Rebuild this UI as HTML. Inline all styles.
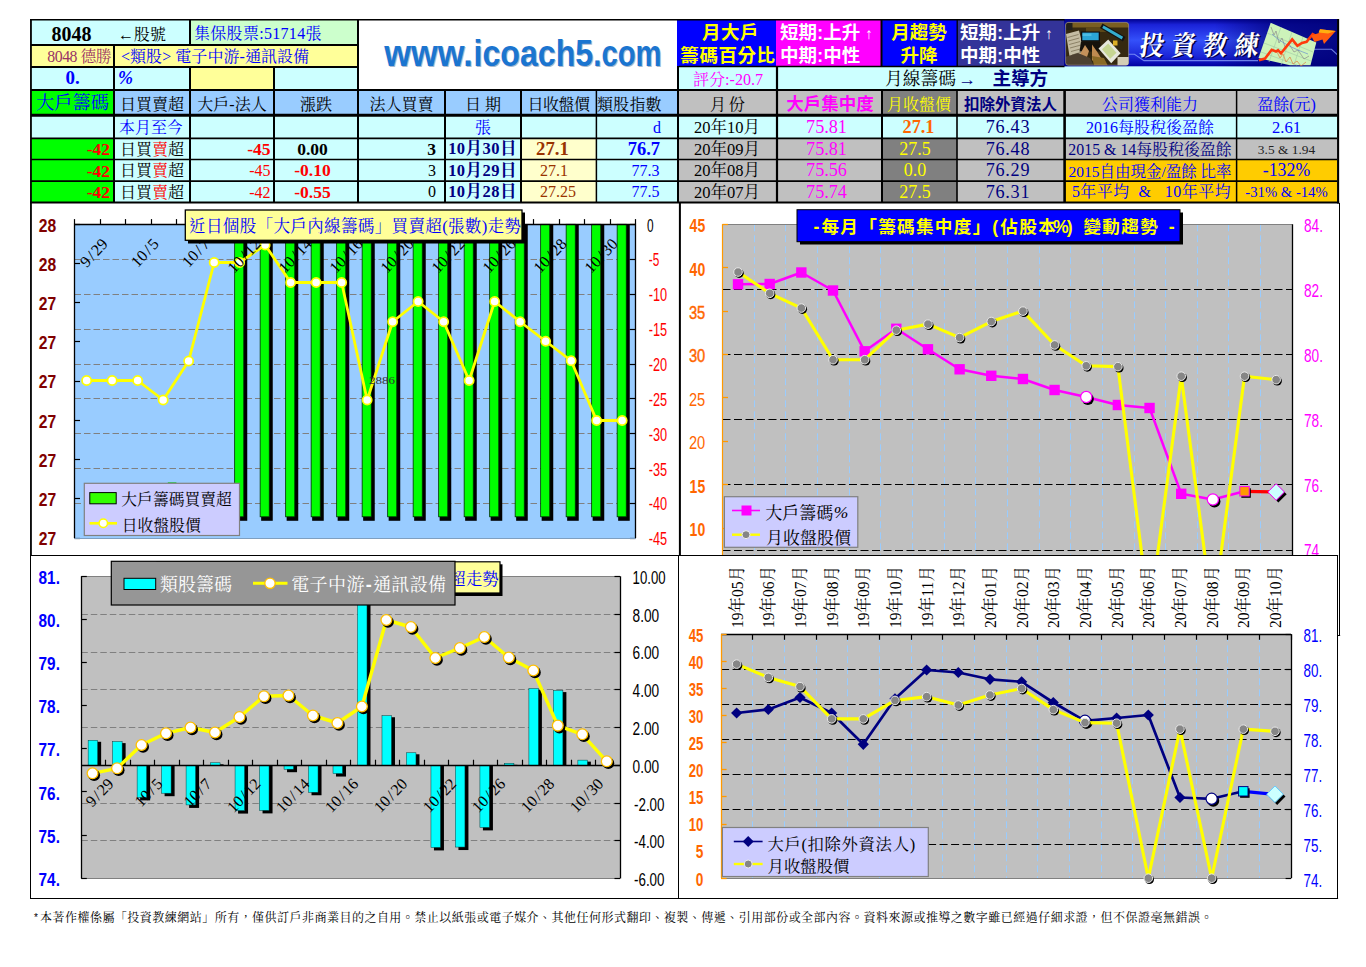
<!DOCTYPE html>
<html lang="zh-Hant"><head><meta charset="utf-8"><title>8048 icoach5</title>
<style>
html,body{margin:0;padding:0;background:#fff}
body{width:1366px;height:967px;position:relative;overflow:hidden;font-family:"Liberation Serif","Noto Serif CJK SC","Noto Sans CJK TC",serif;font-size:16px}
.c{position:absolute;display:flex;align-items:center;box-sizing:border-box;white-space:nowrap;overflow:visible;line-height:1}
.b{font-family:"Liberation Sans","Noto Sans CJK TC",sans-serif;font-weight:bold}
.cj{white-space:nowrap}
#ov{position:absolute;left:0;top:0}
</style></head><body>
<div class="c" style="left:31px;top:20px;width:83px;height:25px;background:#ccffff;justify-content:center;font-family:'Liberation Serif',serif;font-weight:bold;font-size:20px;color:#000;padding-top:2px;padding-right:2px"><span>8048</span></div>
<div class="c" style="left:114px;top:20px;width:76px;height:25px;background:#ccffff;justify-content:flex-start;padding-left:4px;color:#000;padding-top:4px"><span><span class="cj">←股號</span></span></div>
<div class="c" style="left:190px;top:20px;width:168px;height:25px;background:#ccffcc;justify-content:flex-start;padding-left:4px;color:#0000ff;padding-top:3px"><span style="letter-spacing:0.3px"><span class="cj">集保股票:51714張</span></span></div>
<div class="c" style="left:31px;top:45px;width:83px;height:22px;background:#ffff99;justify-content:flex-end;padding-right:3px;color:#993366;font-size:15.8px;padding-top:1px"><span style="letter-spacing:-0.5px"><span class="cj">8048 德勝</span></span></div>
<div class="c" style="left:114px;top:45px;width:244px;height:22px;background:#ffff99;justify-content:flex-start;padding-left:7px;color:#0000ff;padding-top:1px"><span style="letter-spacing:0.05px"><span class="cj">&lt;類股&gt; 電子中游-通訊設備</span></span></div>
<div class="c" style="left:31px;top:67px;width:83px;height:23px;background:#ccffff;justify-content:center;font-family:'Liberation Serif',serif;font-weight:bold;font-size:19px;padding-bottom:2px;color:#0000ff"><span>0.</span></div>
<div class="c" style="left:114px;top:67px;width:76px;height:23px;background:#ccffff;justify-content:flex-start;font-family:'Liberation Serif',serif;font-weight:bold;font-style:italic;font-size:18px;color:#0000ff;padding-left:4px;padding-bottom:2px"><span>%</span></div>
<div class="c" style="left:190px;top:67px;width:84px;height:23px;background:#ffff99;justify-content:center;"></div>
<div class="c" style="left:274px;top:67px;width:84px;height:23px;background:#ccffff;justify-content:center;"></div>
<div class="c" style="left:358px;top:20px;width:320px;height:70px;background:#fff;justify-content:center;"></div>
<div class="c" style="left:31px;top:90px;width:83px;height:25.5px;background:#00ff00;justify-content:center;color:#0000ff;font-size:18.3px;padding-top:1px"><span><span class="cj">大戶籌碼</span></span></div>
<div class="c" style="left:114px;top:90px;width:76px;height:25.5px;background:#99ccff;justify-content:center;color:#000;padding-top:4px"><span><span class="cj">日買賣超</span></span></div>
<div class="c" style="left:190px;top:90px;width:84px;height:25.5px;background:#99ccff;justify-content:center;color:#000;padding-top:4px"><span><span class="cj">大戶-法人</span></span></div>
<div class="c" style="left:274px;top:90px;width:84px;height:25.5px;background:#99ccff;justify-content:center;color:#000;padding-top:4px"><span><span class="cj">漲跌</span></span></div>
<div class="c" style="left:358px;top:90px;width:87px;height:25.5px;background:#99ccff;justify-content:center;color:#000;padding-top:4px"><span><span class="cj">法人買賣</span></span></div>
<div class="c" style="left:445px;top:90px;width:76px;height:25.5px;background:#99ccff;justify-content:center;color:#000;padding-top:4px"><span><span class="cj">日 期</span></span></div>
<div class="c" style="left:521px;top:90px;width:75px;height:25.5px;background:#99ccff;justify-content:center;color:#000;padding-top:4px;letter-spacing:-0.5px"><span><span class="cj">日收盤價</span></span></div>
<div class="c" style="left:596px;top:90px;width:82px;height:25.5px;background:#99ccff;justify-content:flex-start;color:#000;padding-top:4px;padding-left:1px"><span style="letter-spacing:0.2px"><span class="cj">類股指數</span></span></div>
<div class="c" style="left:31px;top:115.5px;width:83px;height:22.5px;background:#ccffff;justify-content:center;"></div>
<div class="c" style="left:114px;top:115.5px;width:76px;height:22.5px;background:#ccffff;justify-content:flex-start;color:#0000ff;padding-top:2px;padding-left:5px"><span><span class="cj">本月至今</span></span></div>
<div class="c" style="left:190px;top:115.5px;width:84px;height:22.5px;background:#ccffff;justify-content:center;"></div>
<div class="c" style="left:274px;top:115.5px;width:84px;height:22.5px;background:#ccffff;justify-content:center;"></div>
<div class="c" style="left:358px;top:115.5px;width:87px;height:22.5px;background:#ccffff;justify-content:center;"></div>
<div class="c" style="left:445px;top:115.5px;width:76px;height:22.5px;background:#ccffff;justify-content:center;color:#0000ff;padding-top:2px;"><span><span class="cj">張</span></span></div>
<div class="c" style="left:521px;top:115.5px;width:75px;height:22.5px;background:#ccffff;justify-content:center;"></div>
<div class="c" style="left:596px;top:115.5px;width:82px;height:22.5px;background:#ccffff;justify-content:flex-end;color:#0000ff;padding-top:2px;padding-right:17px"><span><span class="cj">d</span></span></div>
<div class="c" style="left:31px;top:138px;width:83px;height:21.5px;background:#00ff00;justify-content:flex-end;font-family:'Liberation Serif',serif;font-weight:bold;font-size:17.5px;color:#ff0000;padding-right:4px;padding-top:2px"><span>-42</span></div>
<div class="c" style="left:114px;top:138px;width:76px;height:21.5px;background:#ccffff;justify-content:center;color:#000;padding-top:2px"><span><span class="cj">日買<span style="color:#ff0000">賣</span>超</span></span></div>
<div class="c" style="left:190px;top:138px;width:84px;height:21.5px;background:#ccffff;justify-content:flex-end;font-family:'Liberation Serif',serif;font-weight:bold;font-size:17.5px;color:#ff0000;padding-right:3.5px;padding-top:2px"><span>-45</span></div>
<div class="c" style="left:274px;top:138px;width:84px;height:21.5px;background:#ccffff;justify-content:center;font-family:'Liberation Serif',serif;font-weight:bold;font-size:17.5px;color:#000;padding-right:7px;padding-top:1px"><span>0.00</span></div>
<div class="c" style="left:358px;top:138px;width:87px;height:21.5px;background:#ccffff;justify-content:flex-end;font-family:'Liberation Serif',serif;font-weight:bold;font-size:17.5px;color:#000;padding-right:9px;padding-top:1px"><span>3</span></div>
<div class="c" style="left:445px;top:138px;width:76px;height:21.5px;background:#ccffff;justify-content:center;font-family:'Liberation Serif','Noto Serif CJK SC','Noto Sans CJK TC',serif;font-weight:bold;font-size:16.5px;color:#000080;padding-top:1px;padding-right:1px"><span style="letter-spacing:0.45px"><span class="cj">10月30日</span></span></div>
<div class="c" style="left:521px;top:138px;width:75px;height:21.5px;background:#ffffcc;justify-content:flex-start;font-family:'Liberation Serif',serif;font-weight:bold;font-size:18.8px;padding-left:15px;color:#993300;padding-top:1px"><span>27.1</span></div>
<div class="c" style="left:596px;top:138px;width:82px;height:21.5px;background:#ccffff;justify-content:flex-end;font-family:'Liberation Serif',serif;font-weight:bold;font-size:18.5px;padding-right:18px;color:#0000ff;padding-top:1px"><span>76.7</span></div>
<div class="c" style="left:31px;top:159.5px;width:83px;height:21.5px;background:#00ff00;justify-content:flex-end;font-family:'Liberation Serif',serif;font-weight:bold;font-size:17.5px;color:#ff0000;padding-right:4px;padding-top:2px"><span>-42</span></div>
<div class="c" style="left:114px;top:159.5px;width:76px;height:21.5px;background:#ccffff;justify-content:center;color:#000;padding-top:2px"><span><span class="cj">日買<span style="color:#ff0000">賣</span>超</span></span></div>
<div class="c" style="left:190px;top:159.5px;width:84px;height:21.5px;background:#ccffff;justify-content:flex-end;font-family:'Liberation Serif',serif;font-size:16px;color:#ff0000;padding-right:3.5px;padding-top:2px"><span>-45</span></div>
<div class="c" style="left:274px;top:159.5px;width:84px;height:21.5px;background:#ccffff;justify-content:center;font-family:'Liberation Serif',serif;font-weight:bold;font-size:17.5px;color:#ff0000;padding-right:7px;padding-top:1px"><span>-0.10</span></div>
<div class="c" style="left:358px;top:159.5px;width:87px;height:21.5px;background:#ccffff;justify-content:flex-end;font-family:'Liberation Serif',serif;font-size:16px;color:#000;padding-right:9px;padding-top:1px"><span>3</span></div>
<div class="c" style="left:445px;top:159.5px;width:76px;height:21.5px;background:#ccffff;justify-content:center;font-family:'Liberation Serif','Noto Serif CJK SC','Noto Sans CJK TC',serif;font-weight:bold;font-size:16.5px;color:#000080;padding-top:1px;padding-right:1px"><span style="letter-spacing:0.45px"><span class="cj">10月29日</span></span></div>
<div class="c" style="left:521px;top:159.5px;width:75px;height:21.5px;background:#ffffcc;justify-content:flex-start;font-family:'Liberation Serif',serif;font-size:16px;padding-left:19px;color:#993300;padding-top:1px"><span>27.1</span></div>
<div class="c" style="left:596px;top:159.5px;width:82px;height:21.5px;background:#ccffff;justify-content:flex-end;font-family:'Liberation Serif',serif;font-size:16px;padding-right:18.5px;color:#0000ff;padding-top:1px"><span>77.3</span></div>
<div class="c" style="left:31px;top:181px;width:83px;height:21.5px;background:#00ff00;justify-content:flex-end;font-family:'Liberation Serif',serif;font-weight:bold;font-size:17.5px;color:#ff0000;padding-right:4px;padding-top:2px"><span>-42</span></div>
<div class="c" style="left:114px;top:181px;width:76px;height:21.5px;background:#ccffff;justify-content:center;color:#000;padding-top:2px"><span><span class="cj">日買<span style="color:#ff0000">賣</span>超</span></span></div>
<div class="c" style="left:190px;top:181px;width:84px;height:21.5px;background:#ccffff;justify-content:flex-end;font-family:'Liberation Serif',serif;font-size:16px;color:#ff0000;padding-right:3.5px;padding-top:2px"><span>-42</span></div>
<div class="c" style="left:274px;top:181px;width:84px;height:21.5px;background:#ccffff;justify-content:center;font-family:'Liberation Serif',serif;font-weight:bold;font-size:17.5px;color:#ff0000;padding-right:7px;padding-top:1px"><span>-0.55</span></div>
<div class="c" style="left:358px;top:181px;width:87px;height:21.5px;background:#ccffff;justify-content:flex-end;font-family:'Liberation Serif',serif;font-size:16px;color:#000;padding-right:9px;padding-top:1px"><span>0</span></div>
<div class="c" style="left:445px;top:181px;width:76px;height:21.5px;background:#ccffff;justify-content:center;font-family:'Liberation Serif','Noto Serif CJK SC','Noto Sans CJK TC',serif;font-weight:bold;font-size:16.5px;color:#000080;padding-top:1px;padding-right:1px"><span style="letter-spacing:0.45px"><span class="cj">10月28日</span></span></div>
<div class="c" style="left:521px;top:181px;width:75px;height:21.5px;background:#ffffcc;justify-content:flex-start;font-family:'Liberation Serif',serif;font-size:16px;padding-left:19px;color:#993300;padding-top:1px"><span>27.25</span></div>
<div class="c" style="left:596px;top:181px;width:82px;height:21.5px;background:#ccffff;justify-content:flex-end;font-family:'Liberation Serif',serif;font-size:16px;padding-right:18.5px;color:#0000ff;padding-top:1px"><span>77.5</span></div>
<div class="c b" style="left:677px;top:20px;width:99px;height:46px;background:#0000ff;justify-content:center;font-size:18.5px;line-height:22.5px;padding-top:3px;color:#ffff00;text-align:center;padding-left:3px"><span style="letter-spacing:0.55px"><span class="cj" style="margin-left:5px">月大戶</span><br><span class="cj">籌碼百分比</span></span></div>
<div class="c b" style="left:776px;top:20px;width:105px;height:46px;background:#ff00ff;justify-content:flex-start;font-size:18.5px;line-height:22.5px;padding-top:3px;color:#fff;padding-left:4px"><span><span class="cj">短期:上升</span><span style="display:inline-block;width:5px"></span><span class="cj" style="font-size:.82em">↑</span><br><span class="cj">中期:中性</span></span></div>
<div class="c b" style="left:881px;top:20px;width:76px;height:46px;background:#0000ff;justify-content:center;font-size:18.5px;line-height:22.5px;padding-top:3px;color:#ffff00;text-align:center"><span><span class="cj">月趨勢</span><br><span class="cj">升降</span></span></div>
<div class="c b" style="left:957px;top:20px;width:107px;height:46px;background:#333399;justify-content:flex-start;font-size:18.5px;line-height:22.5px;padding-top:3px;color:#fff;padding-left:3px"><span><span class="cj">短期:上升</span><span style="display:inline-block;width:5px"></span><span class="cj" style="font-size:.82em">↑</span><br><span class="cj">中期:中性</span></span></div>
<div class="c" style="left:678px;top:66px;width:659px;height:24px;background:#ccffff;justify-content:center;"></div>
<div class="c" style="left:679px;top:67px;width:97px;height:23px;background:#ccffff;justify-content:center;font-family:'Liberation Serif','Noto Serif CJK SC','Noto Sans CJK TC',serif;color:#ff00ff;padding-top:2px;padding-left:1px"><span><span class="cj">評分:-20.7</span></span></div>
<div class="c" style="left:776px;top:67px;width:561px;height:23px;background:#ccffff;justify-content:flex-start;font-size:17.8px;color:#000;padding-left:109px;padding-top:2px"><span><span class="cj">月線籌碼</span><span class="b" style="color:#000080"><span class="cj" style="margin-left:2px">→</span><span style="display:inline-block;width:16.5px"></span><span class="cj" style="font-size:18.6px">主導方</span></span></span></div>
<div class="c" style="left:678px;top:90px;width:98px;height:25.5px;background:#c0c0c0;justify-content:center;color:#000;padding-top:4px;padding-left:4px"><span style="letter-spacing:3px"><span class="cj">月份</span></span></div>
<div class="c b" style="left:776px;top:90px;width:105px;height:25.5px;background:#c0c0c0;justify-content:center;color:#ff00ff;font-size:17.5px;padding-top:4px;padding-left:3px"><span><span class="cj">大戶集中度</span></span></div>
<div class="c" style="left:881px;top:90px;width:76px;height:25.5px;background:#808080;justify-content:center;color:#ffff00;padding-top:4px"><span><span class="cj">月收盤價</span></span></div>
<div class="c b" style="left:957px;top:90px;width:107px;height:25.5px;background:#c0c0c0;justify-content:center;color:#000080;font-size:15.5px;padding-top:3px"><span><span class="cj">扣除外資法人</span></span></div>
<div class="c" style="left:1064px;top:90px;width:172px;height:25.5px;background:#c0c0c0;justify-content:center;color:#0000ff;padding-top:4px"><span><span class="cj">公司獲利能力</span></span></div>
<div class="c" style="left:1236px;top:90px;width:101px;height:25.5px;background:#c0c0c0;justify-content:center;color:#0000ff;padding-top:4px"><span><span class="cj">盈餘(元)</span></span></div>
<div class="c" style="left:678px;top:115.5px;width:98px;height:22.5px;background:#ccffff;justify-content:center;color:#000;font-size:16.5px;padding-top:2px;padding-right:0px"><span><span class="cj">20年10月</span></span></div>
<div class="c" style="left:776px;top:115.5px;width:105px;height:22.5px;background:#ccffff;justify-content:center;font-family:'Liberation Serif',serif;font-size:18.2px;color:#ff00ff;padding-right:4px"><span>75.81</span></div>
<div class="c" style="left:881px;top:115.5px;width:76px;height:22.5px;background:#ccffff;justify-content:center;font-family:'Liberation Serif',serif;font-weight:bold;font-size:18.3px;padding-right:1px;color:#ff6600"><span>27.1</span></div>
<div class="c" style="left:957px;top:115.5px;width:107px;height:22.5px;background:#ccffff;justify-content:center;font-family:'Liberation Serif',serif;font-size:18.2px;color:#000080;padding-right:5px;letter-spacing:0.7px"><span>76.43</span></div>
<div class="c" style="left:1064px;top:115.5px;width:172px;height:22.5px;background:#ccffff;justify-content:center;color:#0000ff;font-size:16px;padding-top:2px;white-space:nowrap"><span><span class="cj">2016每股稅後盈餘</span></span></div>
<div class="c" style="left:1236px;top:115.5px;width:101px;height:22.5px;background:#ccffff;justify-content:center;color:#0000ff;font-size:16.5px;padding-top:2px"><span><span class="cj">2.61</span></span></div>
<div class="c" style="left:678px;top:138px;width:98px;height:21.5px;background:#c0c0c0;justify-content:center;color:#000;font-size:16.5px;padding-top:2px;padding-right:0px"><span><span class="cj">20年09月</span></span></div>
<div class="c" style="left:776px;top:138px;width:105px;height:21.5px;background:#c0c0c0;justify-content:center;font-family:'Liberation Serif',serif;font-size:18.2px;color:#ff00ff;padding-right:4px"><span>75.81</span></div>
<div class="c" style="left:881px;top:138px;width:76px;height:21.5px;background:#808080;justify-content:center;font-family:'Liberation Serif',serif;font-size:18px;padding-right:8px;color:#ffff00"><span>27.5</span></div>
<div class="c" style="left:957px;top:138px;width:107px;height:21.5px;background:#c0c0c0;justify-content:center;font-family:'Liberation Serif',serif;font-size:18.2px;color:#000080;padding-right:5px;letter-spacing:0.7px"><span>76.48</span></div>
<div class="c" style="left:1064px;top:138px;width:172px;height:21.5px;background:#c0c0c0;justify-content:center;color:#000080;font-size:15.9px;padding-top:2px;white-space:nowrap"><span><span class="cj">2015 &amp; 14每股稅後盈餘</span></span></div>
<div class="c" style="left:1236px;top:138px;width:101px;height:21.5px;background:#c0c0c0;justify-content:center;color:#222;font-size:13.4px;padding-top:2px"><span><span class="cj">3.5 &amp; 1.94</span></span></div>
<div class="c" style="left:678px;top:159.5px;width:98px;height:21.5px;background:#c0c0c0;justify-content:center;color:#000;font-size:16.5px;padding-top:2px;padding-right:0px"><span><span class="cj">20年08月</span></span></div>
<div class="c" style="left:776px;top:159.5px;width:105px;height:21.5px;background:#c0c0c0;justify-content:center;font-family:'Liberation Serif',serif;font-size:18.2px;color:#ff00ff;padding-right:4px"><span>75.56</span></div>
<div class="c" style="left:881px;top:159.5px;width:76px;height:21.5px;background:#808080;justify-content:center;font-family:'Liberation Serif',serif;font-size:18px;padding-right:8px;color:#ffff00"><span>0.0</span></div>
<div class="c" style="left:957px;top:159.5px;width:107px;height:21.5px;background:#c0c0c0;justify-content:center;font-family:'Liberation Serif',serif;font-size:18.2px;color:#000080;padding-right:5px;letter-spacing:0.7px"><span>76.29</span></div>
<div class="c" style="left:1064px;top:159.5px;width:172px;height:21.5px;background:#ffcc00;justify-content:center;color:#0000ff;font-size:15.5px;padding-top:2px;white-space:nowrap"><span><span class="cj">2015自由現金/盈餘 比率</span></span></div>
<div class="c" style="left:1236px;top:159.5px;width:101px;height:21.5px;background:#ffcc00;justify-content:center;color:#0000ff;font-size:17.8px;padding-top:2px"><span>-132%</span></div>
<div class="c" style="left:678px;top:181px;width:98px;height:21.5px;background:#c0c0c0;justify-content:center;color:#000;font-size:16.5px;padding-top:2px;padding-right:0px"><span><span class="cj">20年07月</span></span></div>
<div class="c" style="left:776px;top:181px;width:105px;height:21.5px;background:#c0c0c0;justify-content:center;font-family:'Liberation Serif',serif;font-size:18.2px;color:#ff00ff;padding-right:4px"><span>75.74</span></div>
<div class="c" style="left:881px;top:181px;width:76px;height:21.5px;background:#808080;justify-content:center;font-family:'Liberation Serif',serif;font-size:18px;padding-right:8px;color:#ffff00"><span>27.5</span></div>
<div class="c" style="left:957px;top:181px;width:107px;height:21.5px;background:#c0c0c0;justify-content:center;font-family:'Liberation Serif',serif;font-size:18.2px;color:#000080;padding-right:5px;letter-spacing:0.7px"><span>76.31</span></div>
<div class="c" style="left:1064px;top:181px;width:172px;height:21.5px;background:#ffcc00;justify-content:center;font-family:'Liberation Serif','Noto Serif CJK SC','Noto Sans CJK TC',serif;color:#0000ff;font-size:16px;padding-top:1px;padding-left:3px"><span style="letter-spacing:0.45px"><span class="cj">5年平均&nbsp;&nbsp;&amp;&nbsp;&nbsp;&nbsp;10年平均</span></span></div>
<div class="c" style="left:1236px;top:181px;width:101px;height:21.5px;background:#ffcc00;justify-content:center;font-family:'Liberation Serif',serif;color:#0000ff;font-size:14.7px;padding-top:2px"><span>-31% &amp; -14%</span></div>
<svg id="ov" width="1366" height="967" viewBox="0 0 1366 967">
<rect x="32" y="203.5" width="646" height="350.5" fill="#fff"/>
<rect x="74.5" y="224.3" width="561" height="313.7" fill="#99ccff"/>
<line x1="74.5" y1="259.5" x2="635.5" y2="259.5" stroke="#808080" stroke-width="1.2" stroke-dasharray="6.5 3"/>
<line x1="74.5" y1="294.5" x2="635.5" y2="294.5" stroke="#808080" stroke-width="1.2" stroke-dasharray="6.5 3"/>
<line x1="74.5" y1="329.5" x2="635.5" y2="329.5" stroke="#808080" stroke-width="1.2" stroke-dasharray="6.5 3"/>
<line x1="74.5" y1="364.5" x2="635.5" y2="364.5" stroke="#808080" stroke-width="1.2" stroke-dasharray="6.5 3"/>
<line x1="74.5" y1="398.5" x2="635.5" y2="398.5" stroke="#808080" stroke-width="1.2" stroke-dasharray="6.5 3"/>
<line x1="74.5" y1="433.5" x2="635.5" y2="433.5" stroke="#808080" stroke-width="1.2" stroke-dasharray="6.5 3"/>
<line x1="74.5" y1="468.5" x2="635.5" y2="468.5" stroke="#808080" stroke-width="1.2" stroke-dasharray="6.5 3"/>
<line x1="74.5" y1="503.5" x2="635.5" y2="503.5" stroke="#808080" stroke-width="1.2" stroke-dasharray="6.5 3"/>
<rect x="235.65" y="224.3" width="11.6" height="296.487" fill="#000"/>
<rect x="234.65" y="224.3" width="9.1" height="292.487" fill="#00ff00" stroke="#003000" stroke-width="0.8"/>
<rect x="261.15" y="224.3" width="11.6" height="296.487" fill="#000"/>
<rect x="260.15" y="224.3" width="9.1" height="292.487" fill="#00ff00" stroke="#003000" stroke-width="0.8"/>
<rect x="286.65" y="224.3" width="11.6" height="296.487" fill="#000"/>
<rect x="285.65" y="224.3" width="9.1" height="292.487" fill="#00ff00" stroke="#003000" stroke-width="0.8"/>
<rect x="312.15" y="224.3" width="11.6" height="296.487" fill="#000"/>
<rect x="311.15" y="224.3" width="9.1" height="292.487" fill="#00ff00" stroke="#003000" stroke-width="0.8"/>
<rect x="337.65" y="224.3" width="11.6" height="296.487" fill="#000"/>
<rect x="336.65" y="224.3" width="9.1" height="292.487" fill="#00ff00" stroke="#003000" stroke-width="0.8"/>
<rect x="363.15" y="224.3" width="11.6" height="296.487" fill="#000"/>
<rect x="362.15" y="224.3" width="9.1" height="292.487" fill="#00ff00" stroke="#003000" stroke-width="0.8"/>
<rect x="388.65" y="224.3" width="11.6" height="296.487" fill="#000"/>
<rect x="387.65" y="224.3" width="9.1" height="292.487" fill="#00ff00" stroke="#003000" stroke-width="0.8"/>
<rect x="414.15" y="224.3" width="11.6" height="296.487" fill="#000"/>
<rect x="413.15" y="224.3" width="9.1" height="292.487" fill="#00ff00" stroke="#003000" stroke-width="0.8"/>
<rect x="439.65" y="224.3" width="11.6" height="296.487" fill="#000"/>
<rect x="438.65" y="224.3" width="9.1" height="292.487" fill="#00ff00" stroke="#003000" stroke-width="0.8"/>
<rect x="465.15" y="224.3" width="11.6" height="296.487" fill="#000"/>
<rect x="464.15" y="224.3" width="9.1" height="292.487" fill="#00ff00" stroke="#003000" stroke-width="0.8"/>
<rect x="490.65" y="224.3" width="11.6" height="296.487" fill="#000"/>
<rect x="489.65" y="224.3" width="9.1" height="292.487" fill="#00ff00" stroke="#003000" stroke-width="0.8"/>
<rect x="516.15" y="224.3" width="11.6" height="296.487" fill="#000"/>
<rect x="515.15" y="224.3" width="9.1" height="292.487" fill="#00ff00" stroke="#003000" stroke-width="0.8"/>
<rect x="541.65" y="224.3" width="11.6" height="296.487" fill="#000"/>
<rect x="540.65" y="224.3" width="9.1" height="292.487" fill="#00ff00" stroke="#003000" stroke-width="0.8"/>
<rect x="567.15" y="224.3" width="11.6" height="296.487" fill="#000"/>
<rect x="566.15" y="224.3" width="9.1" height="292.487" fill="#00ff00" stroke="#003000" stroke-width="0.8"/>
<rect x="592.65" y="224.3" width="11.6" height="296.487" fill="#000"/>
<rect x="591.65" y="224.3" width="9.1" height="292.487" fill="#00ff00" stroke="#003000" stroke-width="0.8"/>
<rect x="618.15" y="224.3" width="11.6" height="296.487" fill="#000"/>
<rect x="617.15" y="224.3" width="9.1" height="292.487" fill="#00ff00" stroke="#003000" stroke-width="0.8"/>
<rect x="167.8" y="482.4" width="8.6" height="1.4" fill="#00cc00"/>
<line x1="74.5" y1="224.5" x2="635.5" y2="224.5" stroke="#000" stroke-width="1.3"/>
<line x1="74.5" y1="219.1" x2="74.5" y2="224.3" stroke="#000" stroke-width="1.2"/>
<line x1="100.5" y1="219.1" x2="100.5" y2="224.3" stroke="#000" stroke-width="1.2"/>
<line x1="125.5" y1="219.1" x2="125.5" y2="224.3" stroke="#000" stroke-width="1.2"/>
<line x1="151.5" y1="219.1" x2="151.5" y2="224.3" stroke="#000" stroke-width="1.2"/>
<line x1="176.5" y1="219.1" x2="176.5" y2="224.3" stroke="#000" stroke-width="1.2"/>
<line x1="202.5" y1="219.1" x2="202.5" y2="224.3" stroke="#000" stroke-width="1.2"/>
<line x1="227.5" y1="219.1" x2="227.5" y2="224.3" stroke="#000" stroke-width="1.2"/>
<line x1="253.5" y1="219.1" x2="253.5" y2="224.3" stroke="#000" stroke-width="1.2"/>
<line x1="278.5" y1="219.1" x2="278.5" y2="224.3" stroke="#000" stroke-width="1.2"/>
<line x1="304.5" y1="219.1" x2="304.5" y2="224.3" stroke="#000" stroke-width="1.2"/>
<line x1="329.5" y1="219.1" x2="329.5" y2="224.3" stroke="#000" stroke-width="1.2"/>
<line x1="355.5" y1="219.1" x2="355.5" y2="224.3" stroke="#000" stroke-width="1.2"/>
<line x1="380.5" y1="219.1" x2="380.5" y2="224.3" stroke="#000" stroke-width="1.2"/>
<line x1="406.5" y1="219.1" x2="406.5" y2="224.3" stroke="#000" stroke-width="1.2"/>
<line x1="431.5" y1="219.1" x2="431.5" y2="224.3" stroke="#000" stroke-width="1.2"/>
<line x1="457.5" y1="219.1" x2="457.5" y2="224.3" stroke="#000" stroke-width="1.2"/>
<line x1="482.5" y1="219.1" x2="482.5" y2="224.3" stroke="#000" stroke-width="1.2"/>
<line x1="508.5" y1="219.1" x2="508.5" y2="224.3" stroke="#000" stroke-width="1.2"/>
<line x1="533.5" y1="219.1" x2="533.5" y2="224.3" stroke="#000" stroke-width="1.2"/>
<line x1="559.5" y1="219.1" x2="559.5" y2="224.3" stroke="#000" stroke-width="1.2"/>
<line x1="584.5" y1="219.1" x2="584.5" y2="224.3" stroke="#000" stroke-width="1.2"/>
<line x1="610.5" y1="219.1" x2="610.5" y2="224.3" stroke="#000" stroke-width="1.2"/>
<line x1="635.5" y1="219.1" x2="635.5" y2="224.3" stroke="#000" stroke-width="1.2"/>
<line x1="74.5" y1="223.7" x2="74.5" y2="538" stroke="#000" stroke-width="1.3"/>
<line x1="635.5" y1="223.7" x2="635.5" y2="538" stroke="#000" stroke-width="1.3"/>
<line x1="74.5" y1="224.5" x2="80" y2="224.5" stroke="#000" stroke-width="1.2"/>
<line x1="74.5" y1="263.5" x2="80" y2="263.5" stroke="#000" stroke-width="1.2"/>
<line x1="74.5" y1="302.5" x2="80" y2="302.5" stroke="#000" stroke-width="1.2"/>
<line x1="74.5" y1="341.5" x2="80" y2="341.5" stroke="#000" stroke-width="1.2"/>
<line x1="74.5" y1="381.5" x2="80" y2="381.5" stroke="#000" stroke-width="1.2"/>
<line x1="74.5" y1="420.5" x2="80" y2="420.5" stroke="#000" stroke-width="1.2"/>
<line x1="74.5" y1="459.5" x2="80" y2="459.5" stroke="#000" stroke-width="1.2"/>
<line x1="74.5" y1="498.5" x2="80" y2="498.5" stroke="#000" stroke-width="1.2"/>
<line x1="74.5" y1="538.5" x2="80" y2="538.5" stroke="#000" stroke-width="1.2"/>
<line x1="630" y1="224.5" x2="635.5" y2="224.5" stroke="#000" stroke-width="1.2"/>
<line x1="630" y1="259.5" x2="635.5" y2="259.5" stroke="#000" stroke-width="1.2"/>
<line x1="630" y1="294.5" x2="635.5" y2="294.5" stroke="#000" stroke-width="1.2"/>
<line x1="630" y1="329.5" x2="635.5" y2="329.5" stroke="#000" stroke-width="1.2"/>
<line x1="630" y1="364.5" x2="635.5" y2="364.5" stroke="#000" stroke-width="1.2"/>
<line x1="630" y1="398.5" x2="635.5" y2="398.5" stroke="#000" stroke-width="1.2"/>
<line x1="630" y1="433.5" x2="635.5" y2="433.5" stroke="#000" stroke-width="1.2"/>
<line x1="630" y1="468.5" x2="635.5" y2="468.5" stroke="#000" stroke-width="1.2"/>
<line x1="630" y1="503.5" x2="635.5" y2="503.5" stroke="#000" stroke-width="1.2"/>
<line x1="630" y1="538.5" x2="635.5" y2="538.5" stroke="#000" stroke-width="1.2"/>
<line x1="74.5" y1="538.5" x2="635.5" y2="538.5" stroke="#7f9fc0" stroke-width="1"/>
<text x="38.7" y="231.5" font-family="Liberation Sans, sans-serif" font-size="17.8" fill="#800000" font-weight="bold" textLength="17.4" lengthAdjust="spacingAndGlyphs">28</text>
<text x="38.7" y="270.712" font-family="Liberation Sans, sans-serif" font-size="17.8" fill="#800000" font-weight="bold" textLength="17.4" lengthAdjust="spacingAndGlyphs">28</text>
<text x="38.7" y="309.925" font-family="Liberation Sans, sans-serif" font-size="17.8" fill="#800000" font-weight="bold" textLength="17.4" lengthAdjust="spacingAndGlyphs">27</text>
<text x="38.7" y="349.137" font-family="Liberation Sans, sans-serif" font-size="17.8" fill="#800000" font-weight="bold" textLength="17.4" lengthAdjust="spacingAndGlyphs">27</text>
<text x="38.7" y="388.35" font-family="Liberation Sans, sans-serif" font-size="17.8" fill="#800000" font-weight="bold" textLength="17.4" lengthAdjust="spacingAndGlyphs">27</text>
<text x="38.7" y="427.562" font-family="Liberation Sans, sans-serif" font-size="17.8" fill="#800000" font-weight="bold" textLength="17.4" lengthAdjust="spacingAndGlyphs">27</text>
<text x="38.7" y="466.775" font-family="Liberation Sans, sans-serif" font-size="17.8" fill="#800000" font-weight="bold" textLength="17.4" lengthAdjust="spacingAndGlyphs">27</text>
<text x="38.7" y="505.988" font-family="Liberation Sans, sans-serif" font-size="17.8" fill="#800000" font-weight="bold" textLength="17.4" lengthAdjust="spacingAndGlyphs">27</text>
<text x="38.7" y="545.2" font-family="Liberation Sans, sans-serif" font-size="17.8" fill="#800000" font-weight="bold" textLength="17.4" lengthAdjust="spacingAndGlyphs">27</text>
<text x="647" y="231.6" font-family="Liberation Sans, sans-serif" font-size="17.8" fill="#000" textLength="6.6" lengthAdjust="spacingAndGlyphs">0</text>
<text x="648.8" y="266.456" font-family="Liberation Sans, sans-serif" font-size="17.8" fill="#ff0000" textLength="10.5" lengthAdjust="spacingAndGlyphs">-5</text>
<text x="648.8" y="301.311" font-family="Liberation Sans, sans-serif" font-size="17.8" fill="#ff0000" textLength="18.4" lengthAdjust="spacingAndGlyphs">-10</text>
<text x="648.8" y="336.167" font-family="Liberation Sans, sans-serif" font-size="17.8" fill="#ff0000" textLength="18.4" lengthAdjust="spacingAndGlyphs">-15</text>
<text x="648.8" y="371.022" font-family="Liberation Sans, sans-serif" font-size="17.8" fill="#ff0000" textLength="18.4" lengthAdjust="spacingAndGlyphs">-20</text>
<text x="648.8" y="405.878" font-family="Liberation Sans, sans-serif" font-size="17.8" fill="#ff0000" textLength="18.4" lengthAdjust="spacingAndGlyphs">-25</text>
<text x="648.8" y="440.733" font-family="Liberation Sans, sans-serif" font-size="17.8" fill="#ff0000" textLength="18.4" lengthAdjust="spacingAndGlyphs">-30</text>
<text x="648.8" y="475.589" font-family="Liberation Sans, sans-serif" font-size="17.8" fill="#ff0000" textLength="18.4" lengthAdjust="spacingAndGlyphs">-35</text>
<text x="648.8" y="510.444" font-family="Liberation Sans, sans-serif" font-size="17.8" fill="#ff0000" textLength="18.4" lengthAdjust="spacingAndGlyphs">-40</text>
<text x="648.8" y="545.3" font-family="Liberation Sans, sans-serif" font-size="17.8" fill="#ff0000" textLength="18.4" lengthAdjust="spacingAndGlyphs">-45</text>
<polyline points="86.65,380.5 112.15,380.5 137.65,380.5 163.15,400 188.65,361 214.15,262.5 239.65,262.5 265.15,245 290.65,282.5 316.15,282.5 341.65,282.5 367.15,400 392.65,321.75 418.15,301.5 443.65,321.75 469.15,380.5 494.65,301.5 520.15,321.75 545.65,341.25 571.15,360.75 596.65,420.5 622.15,420.5" fill="none" stroke="#ffff00" stroke-width="2.8" stroke-linejoin="round"/>
<circle cx="86.65" cy="380.5" r="4.6" fill="#fff" stroke="#ffff00" stroke-width="1.7"/>
<circle cx="112.15" cy="380.5" r="4.6" fill="#fff" stroke="#ffff00" stroke-width="1.7"/>
<circle cx="137.65" cy="380.5" r="4.6" fill="#fff" stroke="#ffff00" stroke-width="1.7"/>
<circle cx="163.15" cy="400" r="4.6" fill="#fff" stroke="#ffff00" stroke-width="1.7"/>
<circle cx="188.65" cy="361" r="4.6" fill="#fff" stroke="#ffff00" stroke-width="1.7"/>
<circle cx="214.15" cy="262.5" r="4.6" fill="#fff" stroke="#ffff00" stroke-width="1.7"/>
<circle cx="239.65" cy="262.5" r="4.6" fill="#fff" stroke="#ffff00" stroke-width="1.7"/>
<circle cx="265.15" cy="245" r="4.6" fill="#fff" stroke="#ffff00" stroke-width="1.7"/>
<circle cx="290.65" cy="282.5" r="4.6" fill="#fff" stroke="#ffff00" stroke-width="1.7"/>
<circle cx="316.15" cy="282.5" r="4.6" fill="#fff" stroke="#ffff00" stroke-width="1.7"/>
<circle cx="341.65" cy="282.5" r="4.6" fill="#fff" stroke="#ffff00" stroke-width="1.7"/>
<circle cx="367.15" cy="400" r="4.6" fill="#fff" stroke="#ffff00" stroke-width="1.7"/>
<circle cx="392.65" cy="321.75" r="4.6" fill="#fff" stroke="#ffff00" stroke-width="1.7"/>
<circle cx="418.15" cy="301.5" r="4.6" fill="#fff" stroke="#ffff00" stroke-width="1.7"/>
<circle cx="443.65" cy="321.75" r="4.6" fill="#fff" stroke="#ffff00" stroke-width="1.7"/>
<circle cx="469.15" cy="380.5" r="4.6" fill="#fff" stroke="#ffff00" stroke-width="1.7"/>
<circle cx="494.65" cy="301.5" r="4.6" fill="#fff" stroke="#ffff00" stroke-width="1.7"/>
<circle cx="520.15" cy="321.75" r="4.6" fill="#fff" stroke="#ffff00" stroke-width="1.7"/>
<circle cx="545.65" cy="341.25" r="4.6" fill="#fff" stroke="#ffff00" stroke-width="1.7"/>
<circle cx="571.15" cy="360.75" r="4.6" fill="#fff" stroke="#ffff00" stroke-width="1.7"/>
<circle cx="596.65" cy="420.5" r="4.6" fill="#fff" stroke="#ffff00" stroke-width="1.7"/>
<circle cx="622.15" cy="420.5" r="4.6" fill="#fff" stroke="#ffff00" stroke-width="1.7"/>
<text x="369" y="383.5" font-family="Liberation Serif, serif" font-size="11" fill="#333" textLength="26" lengthAdjust="spacingAndGlyphs">2886</text>
<text transform="translate(108.65 244.7) rotate(-47)" font-family="Liberation Serif, serif" font-size="16" fill="#000" text-anchor="end">9<tspan dx="1.8">/</tspan><tspan dx="1.8">29</tspan></text>
<text transform="translate(159.65 244.7) rotate(-47)" font-family="Liberation Serif, serif" font-size="16" fill="#000" text-anchor="end">10<tspan dx="1.8">/</tspan><tspan dx="1.8">5</tspan></text>
<text transform="translate(210.65 244.7) rotate(-47)" font-family="Liberation Serif, serif" font-size="16" fill="#000" text-anchor="end">10<tspan dx="1.8">/</tspan><tspan dx="1.8">7</tspan></text>
<text transform="translate(261.65 244.7) rotate(-47)" font-family="Liberation Serif, serif" font-size="16" fill="#000" text-anchor="end">10<tspan dx="1.8">/</tspan><tspan dx="1.8">12</tspan></text>
<text transform="translate(312.65 244.7) rotate(-47)" font-family="Liberation Serif, serif" font-size="16" fill="#000" text-anchor="end">10<tspan dx="1.8">/</tspan><tspan dx="1.8">14</tspan></text>
<text transform="translate(363.65 244.7) rotate(-47)" font-family="Liberation Serif, serif" font-size="16" fill="#000" text-anchor="end">10<tspan dx="1.8">/</tspan><tspan dx="1.8">16</tspan></text>
<text transform="translate(414.65 244.7) rotate(-47)" font-family="Liberation Serif, serif" font-size="16" fill="#000" text-anchor="end">10<tspan dx="1.8">/</tspan><tspan dx="1.8">20</tspan></text>
<text transform="translate(465.65 244.7) rotate(-47)" font-family="Liberation Serif, serif" font-size="16" fill="#000" text-anchor="end">10<tspan dx="1.8">/</tspan><tspan dx="1.8">22</tspan></text>
<text transform="translate(516.65 244.7) rotate(-47)" font-family="Liberation Serif, serif" font-size="16" fill="#000" text-anchor="end">10<tspan dx="1.8">/</tspan><tspan dx="1.8">26</tspan></text>
<text transform="translate(567.65 244.7) rotate(-47)" font-family="Liberation Serif, serif" font-size="16" fill="#000" text-anchor="end">10<tspan dx="1.8">/</tspan><tspan dx="1.8">28</tspan></text>
<text transform="translate(618.65 244.7) rotate(-47)" font-family="Liberation Serif, serif" font-size="16" fill="#000" text-anchor="end">10<tspan dx="1.8">/</tspan><tspan dx="1.8">30</tspan></text>
<rect x="188" y="212.5" width="337" height="31" fill="#000"/>
<rect x="185.3" y="210" width="336.7" height="30.3" fill="#ffff99" stroke="#000" stroke-width="1.3"/>
<text x="189" y="232.2" font-family="'Liberation Serif','Noto Serif CJK SC','Noto Sans CJK TC',serif" font-size="16.6" fill="#0000ff" textLength="332">近日個股「大戶內線籌碼」買賣超(張數)走勢</text>
<rect x="84.3" y="483.3" width="155.2" height="52.2" fill="#ccccff" stroke="#808080" stroke-width="1.2"/>
<rect x="89.8" y="492.6" width="26.4" height="11.2" fill="#33ff00" stroke="#000" stroke-width="1"/>
<text x="121.3" y="505.3" font-family="'Liberation Serif','Noto Serif CJK SC','Noto Sans CJK TC',serif" font-size="15.8" fill="#000" textLength="110.6">大戶籌碼買賣超</text>
<line x1="89.5" y1="523.3" x2="117" y2="523.3" stroke="#ffff00" stroke-width="2.6"/>
<circle cx="103.3" cy="523.3" r="4.2" fill="#fff" stroke="#ffff00" stroke-width="1.5"/>
<text x="121.8" y="531.3" font-family="'Liberation Serif','Noto Serif CJK SC','Noto Sans CJK TC',serif" font-size="15.8" fill="#000" textLength="79">日收盤股價</text>
<rect x="680" y="203.5" width="659.5" height="351.5" fill="#fff"/>
<clipPath id="cp2"><rect x="680" y="203" width="659" height="352"/></clipPath><g clip-path="url(#cp2)">
<rect x="722.5" y="224.3" width="569.8" height="331.7" fill="#c0c0c0"/>
<line x1="754.5" y1="224.3" x2="754.5" y2="556" stroke="#99ccff" stroke-width="1" stroke-dasharray="7 4"/>
<line x1="785.5" y1="224.3" x2="785.5" y2="556" stroke="#99ccff" stroke-width="1" stroke-dasharray="7 4"/>
<line x1="817.5" y1="224.3" x2="817.5" y2="556" stroke="#99ccff" stroke-width="1" stroke-dasharray="7 4"/>
<line x1="849.5" y1="224.3" x2="849.5" y2="556" stroke="#99ccff" stroke-width="1" stroke-dasharray="7 4"/>
<line x1="880.5" y1="224.3" x2="880.5" y2="556" stroke="#99ccff" stroke-width="1" stroke-dasharray="7 4"/>
<line x1="912.5" y1="224.3" x2="912.5" y2="556" stroke="#99ccff" stroke-width="1" stroke-dasharray="7 4"/>
<line x1="944.5" y1="224.3" x2="944.5" y2="556" stroke="#99ccff" stroke-width="1" stroke-dasharray="7 4"/>
<line x1="975.5" y1="224.3" x2="975.5" y2="556" stroke="#99ccff" stroke-width="1" stroke-dasharray="7 4"/>
<line x1="1007.5" y1="224.3" x2="1007.5" y2="556" stroke="#99ccff" stroke-width="1" stroke-dasharray="7 4"/>
<line x1="1039.5" y1="224.3" x2="1039.5" y2="556" stroke="#99ccff" stroke-width="1" stroke-dasharray="7 4"/>
<line x1="1070.5" y1="224.3" x2="1070.5" y2="556" stroke="#99ccff" stroke-width="1" stroke-dasharray="7 4"/>
<line x1="1102.5" y1="224.3" x2="1102.5" y2="556" stroke="#99ccff" stroke-width="1" stroke-dasharray="7 4"/>
<line x1="1134.5" y1="224.3" x2="1134.5" y2="556" stroke="#99ccff" stroke-width="1" stroke-dasharray="7 4"/>
<line x1="1165.5" y1="224.3" x2="1165.5" y2="556" stroke="#99ccff" stroke-width="1" stroke-dasharray="7 4"/>
<line x1="1197.5" y1="224.3" x2="1197.5" y2="556" stroke="#99ccff" stroke-width="1" stroke-dasharray="7 4"/>
<line x1="1228.5" y1="224.3" x2="1228.5" y2="556" stroke="#99ccff" stroke-width="1" stroke-dasharray="7 4"/>
<line x1="1260.5" y1="224.3" x2="1260.5" y2="556" stroke="#99ccff" stroke-width="1" stroke-dasharray="7 4"/>
<line x1="722.5" y1="289.5" x2="1292.3" y2="289.5" stroke="#000" stroke-width="1.1" stroke-dasharray="8 3.5"/>
<line x1="722.5" y1="354.5" x2="1292.3" y2="354.5" stroke="#000" stroke-width="1.1" stroke-dasharray="8 3.5"/>
<line x1="722.5" y1="419.5" x2="1292.3" y2="419.5" stroke="#000" stroke-width="1.1" stroke-dasharray="8 3.5"/>
<line x1="722.5" y1="484.5" x2="1292.3" y2="484.5" stroke="#000" stroke-width="1.1" stroke-dasharray="8 3.5"/>
<line x1="722.5" y1="550.5" x2="1292.3" y2="550.5" stroke="#000" stroke-width="1.1" stroke-dasharray="8 3.5"/>
<line x1="722.5" y1="224.5" x2="1292.3" y2="224.5" stroke="#808080" stroke-width="1"/>
<line x1="1292.5" y1="224.3" x2="1292.5" y2="556" stroke="#000" stroke-width="1.3"/>
<line x1="722.5" y1="224.3" x2="722.5" y2="556" stroke="#ff9900" stroke-width="1.2"/>
<line x1="722.5" y1="224.5" x2="728" y2="224.5" stroke="#ff9900" stroke-width="1.3"/>
<text x="705.2" y="232.1" font-family="Liberation Sans, sans-serif" font-size="18.3" fill="#ff6600" text-anchor="end" font-weight="bold" textLength="15.6" lengthAdjust="spacingAndGlyphs">45</text>
<line x1="722.5" y1="267.5" x2="728" y2="267.5" stroke="#ff9900" stroke-width="1.3"/>
<text x="705.2" y="275.5" font-family="Liberation Sans, sans-serif" font-size="18.3" fill="#ff6600" text-anchor="end" font-weight="bold" textLength="15.6" lengthAdjust="spacingAndGlyphs">40</text>
<line x1="722.5" y1="311.5" x2="728" y2="311.5" stroke="#ff9900" stroke-width="1.3"/>
<text x="705.2" y="318.9" font-family="Liberation Sans, sans-serif" font-size="18.3" fill="#ff6600" text-anchor="end" textLength="16.3" lengthAdjust="spacingAndGlyphs" stroke="#ff6600" stroke-width="0.45">35</text>
<line x1="722.5" y1="354.5" x2="728" y2="354.5" stroke="#ff9900" stroke-width="1.3"/>
<text x="705.2" y="362.3" font-family="Liberation Sans, sans-serif" font-size="18.3" fill="#ff6600" text-anchor="end" textLength="16.3" lengthAdjust="spacingAndGlyphs" stroke="#ff6600" stroke-width="0.45">30</text>
<line x1="722.5" y1="397.5" x2="728" y2="397.5" stroke="#ff9900" stroke-width="1.3"/>
<text x="705.2" y="405.7" font-family="Liberation Sans, sans-serif" font-size="18.3" fill="#ff6600" text-anchor="end" textLength="16.3" lengthAdjust="spacingAndGlyphs">25</text>
<line x1="722.5" y1="441.5" x2="728" y2="441.5" stroke="#ff9900" stroke-width="1.3"/>
<text x="705.2" y="449.1" font-family="Liberation Sans, sans-serif" font-size="18.3" fill="#ff6600" text-anchor="end" textLength="16.3" lengthAdjust="spacingAndGlyphs">20</text>
<line x1="722.5" y1="484.5" x2="728" y2="484.5" stroke="#ff9900" stroke-width="1.3"/>
<text x="705.2" y="492.5" font-family="Liberation Sans, sans-serif" font-size="18.3" fill="#ff6600" text-anchor="end" font-weight="bold" textLength="15.6" lengthAdjust="spacingAndGlyphs">15</text>
<line x1="722.5" y1="528.5" x2="728" y2="528.5" stroke="#ff9900" stroke-width="1.3"/>
<text x="705.2" y="535.9" font-family="Liberation Sans, sans-serif" font-size="18.3" fill="#ff6600" text-anchor="end" font-weight="bold" textLength="15.6" lengthAdjust="spacingAndGlyphs">10</text>
<text x="1304" y="232.1" font-family="Liberation Sans, sans-serif" font-size="17.8" fill="#ff00ff" textLength="19" lengthAdjust="spacingAndGlyphs">84.</text>
<text x="1304" y="297.1" font-family="Liberation Sans, sans-serif" font-size="17.8" fill="#ff00ff" textLength="19" lengthAdjust="spacingAndGlyphs">82.</text>
<text x="1304" y="362.1" font-family="Liberation Sans, sans-serif" font-size="17.8" fill="#ff00ff" textLength="19" lengthAdjust="spacingAndGlyphs">80.</text>
<text x="1304" y="427.1" font-family="Liberation Sans, sans-serif" font-size="17.8" fill="#ff00ff" textLength="19" lengthAdjust="spacingAndGlyphs">78.</text>
<text x="1304" y="492.1" font-family="Liberation Sans, sans-serif" font-size="17.8" fill="#ff00ff" textLength="19" lengthAdjust="spacingAndGlyphs">76.</text>
<text x="1304" y="557.1" font-family="Liberation Sans, sans-serif" font-size="17.8" fill="#ff00ff" textLength="19" lengthAdjust="spacingAndGlyphs">74.</text>
<polyline points="738.028,284.3 769.683,284 801.339,272.5 832.994,290.5 864.65,351.3 896.306,328.8 927.961,349.3 959.617,369.3 991.272,375.8 1022.93,379 1054.58,390 1086.24,397 1117.89,405 1149.55,408 1181.21,493.8 1212.86,499.5 1244.52,491.3" fill="none" stroke="#ff00ff" stroke-width="2.5" stroke-linejoin="round"/>
<line x1="1244.52" y1="491.3" x2="1276.17" y2="492" stroke="#ff0000" stroke-width="3.2"/>
<rect x="732.828" y="279.1" width="10.4" height="10.4" fill="#ff00ff"/>
<rect x="764.483" y="278.8" width="10.4" height="10.4" fill="#ff00ff"/>
<rect x="796.139" y="267.3" width="10.4" height="10.4" fill="#ff00ff"/>
<rect x="827.794" y="285.3" width="10.4" height="10.4" fill="#ff00ff"/>
<rect x="859.45" y="346.1" width="10.4" height="10.4" fill="#ff00ff"/>
<rect x="891.106" y="323.6" width="10.4" height="10.4" fill="#ff00ff"/>
<rect x="922.761" y="344.1" width="10.4" height="10.4" fill="#ff00ff"/>
<rect x="954.417" y="364.1" width="10.4" height="10.4" fill="#ff00ff"/>
<rect x="986.072" y="370.6" width="10.4" height="10.4" fill="#ff00ff"/>
<rect x="1017.73" y="373.8" width="10.4" height="10.4" fill="#ff00ff"/>
<rect x="1049.38" y="384.8" width="10.4" height="10.4" fill="#ff00ff"/>
<circle cx="1087.84" cy="399" r="6" fill="#000"/>
<circle cx="1086.24" cy="397" r="5.6" fill="#fff" stroke="#ff00ff" stroke-width="1.2"/>
<rect x="1112.69" y="399.8" width="10.4" height="10.4" fill="#ff00ff"/>
<rect x="1144.35" y="402.8" width="10.4" height="10.4" fill="#ff00ff"/>
<rect x="1176.01" y="488.6" width="10.4" height="10.4" fill="#ff00ff"/>
<circle cx="1214.46" cy="501.5" r="6" fill="#000"/>
<circle cx="1212.86" cy="499.5" r="5.6" fill="#fff" stroke="#ff00ff" stroke-width="1.2"/>
<rect x="1241.32" y="488.3" width="9.5" height="9.5" fill="#000"/>
<rect x="1239.82" y="486.6" width="9.4" height="9.4" fill="#ff9900" stroke="#ff00ff" stroke-width="1"/>
<path d="M1278.37 486l8.3 8.3-8.3 8.3-8.3-8.3z" fill="#000"/>
<path d="M1276.17 483.7l8.3 8.3-8.3 8.3-8.3-8.3z" fill="#ccffff" stroke="#ff00ff" stroke-width="1"/>
<polyline points="738.028,272.04 769.683,293.306 801.339,308.062 832.994,359.708 864.65,359.708 896.306,330.196 927.961,324.12 959.617,337.574 991.272,321.516 1022.93,311.1 1054.58,344.952 1086.24,365.784 1117.89,366.652 1149.55,614.9 1181.21,376.2 1212.86,614.9 1244.52,376.2 1276.17,379.672" fill="none" stroke="#ffff00" stroke-width="3.1" stroke-linejoin="round"/>
<circle cx="739.128" cy="273.34" r="4.6" fill="#000"/><circle cx="738.028" cy="272.04" r="4.3" fill="#868686" stroke="#e8e8e8" stroke-width="1"/>
<circle cx="770.783" cy="294.606" r="4.6" fill="#000"/><circle cx="769.683" cy="293.306" r="4.3" fill="#868686" stroke="#e8e8e8" stroke-width="1"/>
<circle cx="802.439" cy="309.362" r="4.6" fill="#000"/><circle cx="801.339" cy="308.062" r="4.3" fill="#868686" stroke="#e8e8e8" stroke-width="1"/>
<circle cx="834.094" cy="361.008" r="4.6" fill="#000"/><circle cx="832.994" cy="359.708" r="4.3" fill="#868686" stroke="#e8e8e8" stroke-width="1"/>
<circle cx="865.75" cy="361.008" r="4.6" fill="#000"/><circle cx="864.65" cy="359.708" r="4.3" fill="#868686" stroke="#e8e8e8" stroke-width="1"/>
<circle cx="897.406" cy="331.496" r="4.6" fill="#000"/><circle cx="896.306" cy="330.196" r="4.3" fill="#868686" stroke="#e8e8e8" stroke-width="1"/>
<circle cx="929.061" cy="325.42" r="4.6" fill="#000"/><circle cx="927.961" cy="324.12" r="4.3" fill="#868686" stroke="#e8e8e8" stroke-width="1"/>
<circle cx="960.717" cy="338.874" r="4.6" fill="#000"/><circle cx="959.617" cy="337.574" r="4.3" fill="#868686" stroke="#e8e8e8" stroke-width="1"/>
<circle cx="992.372" cy="322.816" r="4.6" fill="#000"/><circle cx="991.272" cy="321.516" r="4.3" fill="#868686" stroke="#e8e8e8" stroke-width="1"/>
<circle cx="1024.03" cy="312.4" r="4.6" fill="#000"/><circle cx="1022.93" cy="311.1" r="4.3" fill="#868686" stroke="#e8e8e8" stroke-width="1"/>
<circle cx="1055.68" cy="346.252" r="4.6" fill="#000"/><circle cx="1054.58" cy="344.952" r="4.3" fill="#868686" stroke="#e8e8e8" stroke-width="1"/>
<circle cx="1087.34" cy="367.084" r="4.6" fill="#000"/><circle cx="1086.24" cy="365.784" r="4.3" fill="#868686" stroke="#e8e8e8" stroke-width="1"/>
<circle cx="1118.99" cy="367.952" r="4.6" fill="#000"/><circle cx="1117.89" cy="366.652" r="4.3" fill="#868686" stroke="#e8e8e8" stroke-width="1"/>
<circle cx="1150.65" cy="616.2" r="4.6" fill="#000"/><circle cx="1149.55" cy="614.9" r="4.3" fill="#868686" stroke="#e8e8e8" stroke-width="1"/>
<circle cx="1182.31" cy="377.5" r="4.6" fill="#000"/><circle cx="1181.21" cy="376.2" r="4.3" fill="#868686" stroke="#e8e8e8" stroke-width="1"/>
<circle cx="1213.96" cy="616.2" r="4.6" fill="#000"/><circle cx="1212.86" cy="614.9" r="4.3" fill="#868686" stroke="#e8e8e8" stroke-width="1"/>
<circle cx="1245.62" cy="377.5" r="4.6" fill="#000"/><circle cx="1244.52" cy="376.2" r="4.3" fill="#868686" stroke="#e8e8e8" stroke-width="1"/>
<circle cx="1277.27" cy="380.972" r="4.6" fill="#000"/><circle cx="1276.17" cy="379.672" r="4.3" fill="#868686" stroke="#e8e8e8" stroke-width="1"/>
<rect x="724.4" y="496.7" width="133.4" height="50.6" fill="#ccccff" stroke="#808080" stroke-width="1.2"/>
<line x1="732" y1="510.5" x2="760" y2="510.5" stroke="#ff00ff" stroke-width="1.6"/>
<rect x="741.5" y="505.5" width="10" height="10" fill="#ff00ff"/>
<text x="765.3" y="518.6" font-family="'Liberation Serif','Noto Serif CJK SC','Noto Sans CJK TC',serif" font-size="17" fill="#000" textLength="68">大戶籌碼</text><text x="833.8" y="518" font-family="Liberation Serif, serif" font-size="17.5" fill="#000" font-style="italic">%</text>
<line x1="732" y1="534.7" x2="760" y2="534.7" stroke="#ffff00" stroke-width="2.4"/>
<circle cx="746" cy="534.7" r="4" fill="#868686" stroke="#eee" stroke-width="1"/>
<text x="766" y="543.6" font-family="'Liberation Serif','Noto Serif CJK SC','Noto Sans CJK TC',serif" font-size="17" fill="#000" textLength="85">月收盤股價</text>
</g>
<rect x="800" y="212.5" width="383" height="32" fill="#000"/>
<rect x="797" y="209.7" width="383" height="32" fill="#0000ff" stroke="#000" stroke-width="1"/>
<g><text x="816.40" y="233.00" font-family="Liberation Sans, sans-serif" font-size="17.6" fill="#ffff00" text-anchor="middle" font-weight="bold">-</text><text x="821.45" y="233" font-family="'Liberation Sans','Noto Sans CJK TC',sans-serif" font-size="17.6" fill="#ffff00" font-weight="bold" textLength="168.8">每月「籌碼集中度」</text><text x="995.30" y="233.00" font-family="Liberation Sans, sans-serif" font-size="17.6" fill="#ffff00" text-anchor="middle" font-weight="bold">(</text><text x="1000.35" y="233" font-family="'Liberation Sans','Noto Sans CJK TC',sans-serif" font-size="17.6" fill="#ffff00" font-weight="bold" textLength="55.4">佔股本</text><text x="1060.80" y="233.00" font-family="Liberation Sans, sans-serif" font-size="17.6" fill="#ffff00" text-anchor="middle" font-weight="bold">%</text><text x="1069.60" y="233.00" font-family="Liberation Sans, sans-serif" font-size="17.6" fill="#ffff00" text-anchor="middle" font-weight="bold">)</text><text x="1083.45" y="233" font-family="'Liberation Sans','Noto Sans CJK TC',sans-serif" font-size="17.6" fill="#ffff00" font-weight="bold" textLength="74.3">變動趨勢</text><text x="1171.60" y="233.00" font-family="Liberation Sans, sans-serif" font-size="17.6" fill="#ffff00" text-anchor="middle" font-weight="bold">-</text></g>
<rect x="32" y="555.3" width="646" height="342.7" fill="#fff"/>
<rect x="81.3" y="576.3" width="538.7" height="302.3" fill="#c0c0c0"/>
<line x1="81.3" y1="614.5" x2="620" y2="614.5" stroke="#808080" stroke-width="1.2" stroke-dasharray="6.5 3"/>
<line x1="81.3" y1="652.5" x2="620" y2="652.5" stroke="#808080" stroke-width="1.2" stroke-dasharray="6.5 3"/>
<line x1="81.3" y1="689.5" x2="620" y2="689.5" stroke="#808080" stroke-width="1.2" stroke-dasharray="6.5 3"/>
<line x1="81.3" y1="727.5" x2="620" y2="727.5" stroke="#808080" stroke-width="1.2" stroke-dasharray="6.5 3"/>
<line x1="81.3" y1="803.5" x2="620" y2="803.5" stroke="#808080" stroke-width="1.2" stroke-dasharray="6.5 3"/>
<line x1="81.3" y1="840.5" x2="620" y2="840.5" stroke="#808080" stroke-width="1.2" stroke-dasharray="6.5 3"/>
<rect x="91.1432" y="741.798" width="10" height="23.4398" fill="#000"/>
<rect x="88.1432" y="740.298" width="9.5" height="24.9398" fill="#00ffff" stroke="#004040" stroke-width="0.5"/>
<rect x="115.63" y="743.12" width="10" height="22.1172" fill="#000"/>
<rect x="112.63" y="741.62" width="9.5" height="23.6172" fill="#00ffff" stroke="#004040" stroke-width="0.5"/>
<rect x="140.116" y="765.237" width="10" height="35.1194" fill="#000"/>
<rect x="137.116" y="765.237" width="9.5" height="32.1194" fill="#00ffff" stroke="#004040" stroke-width="0.5"/>
<rect x="164.602" y="765.237" width="10" height="30.9628" fill="#000"/>
<rect x="161.602" y="765.237" width="9.5" height="27.9628" fill="#00ffff" stroke="#004040" stroke-width="0.5"/>
<rect x="189.089" y="765.237" width="10" height="42.6769" fill="#000"/>
<rect x="186.089" y="765.237" width="9.5" height="39.6769" fill="#00ffff" stroke="#004040" stroke-width="0.5"/>
<rect x="213.575" y="764.281" width="10" height="0.956188" fill="#000"/>
<rect x="210.575" y="762.781" width="9.5" height="2.45619" fill="#00ffff" stroke="#004040" stroke-width="0.5"/>
<rect x="238.061" y="765.237" width="10" height="48.345" fill="#000"/>
<rect x="235.061" y="765.237" width="9.5" height="45.345" fill="#00ffff" stroke="#004040" stroke-width="0.5"/>
<rect x="262.548" y="765.237" width="10" height="48.1561" fill="#000"/>
<rect x="259.548" y="765.237" width="9.5" height="45.1561" fill="#00ffff" stroke="#004040" stroke-width="0.5"/>
<rect x="287.034" y="765.237" width="10" height="6.96769" fill="#000"/>
<rect x="284.034" y="765.237" width="9.5" height="3.96769" fill="#00ffff" stroke="#004040" stroke-width="0.5"/>
<rect x="311.52" y="765.237" width="10" height="30.0181" fill="#000"/>
<rect x="308.52" y="765.237" width="9.5" height="27.0181" fill="#00ffff" stroke="#004040" stroke-width="0.5"/>
<rect x="336.007" y="765.237" width="10" height="11.3133" fill="#000"/>
<rect x="333.007" y="765.237" width="9.5" height="8.31325" fill="#00ffff" stroke="#004040" stroke-width="0.5"/>
<rect x="360.493" y="579.689" width="10" height="185.548" fill="#000"/>
<rect x="357.493" y="578.189" width="9.5" height="187.048" fill="#00ffff" stroke="#004040" stroke-width="0.5"/>
<rect x="384.98" y="717.236" width="10" height="48.0016" fill="#000"/>
<rect x="381.98" y="715.736" width="9.5" height="49.5016" fill="#00ffff" stroke="#004040" stroke-width="0.5"/>
<rect x="409.466" y="754.268" width="10" height="10.9699" fill="#000"/>
<rect x="406.466" y="752.768" width="9.5" height="12.4699" fill="#00ffff" stroke="#004040" stroke-width="0.5"/>
<rect x="433.952" y="765.237" width="10" height="85.1878" fill="#000"/>
<rect x="430.952" y="765.237" width="9.5" height="82.1878" fill="#00ffff" stroke="#004040" stroke-width="0.5"/>
<rect x="458.439" y="765.237" width="10" height="84.8099" fill="#000"/>
<rect x="455.439" y="765.237" width="9.5" height="81.8099" fill="#00ffff" stroke="#004040" stroke-width="0.5"/>
<rect x="482.925" y="765.237" width="10" height="65.1604" fill="#000"/>
<rect x="479.925" y="765.237" width="9.5" height="62.1604" fill="#00ffff" stroke="#004040" stroke-width="0.5"/>
<rect x="507.411" y="764.848" width="10" height="0.389375" fill="#000"/>
<rect x="504.411" y="763.348" width="9.5" height="1.88937" fill="#00ffff" stroke="#004040" stroke-width="0.5"/>
<rect x="531.898" y="690.029" width="10" height="75.2086" fill="#000"/>
<rect x="528.898" y="688.529" width="9.5" height="76.7086" fill="#00ffff" stroke="#004040" stroke-width="0.5"/>
<rect x="556.384" y="692.107" width="10" height="73.1303" fill="#000"/>
<rect x="553.384" y="690.607" width="9.5" height="74.6303" fill="#00ffff" stroke="#004040" stroke-width="0.5"/>
<rect x="580.87" y="761.636" width="10" height="3.60131" fill="#000"/>
<rect x="577.87" y="760.136" width="9.5" height="5.10131" fill="#00ffff" stroke="#004040" stroke-width="0.5"/>
<line x1="81.3" y1="576.5" x2="620" y2="576.5" stroke="#808080" stroke-width="1"/>
<line x1="81.3" y1="878.5" x2="620" y2="878.5" stroke="#808080" stroke-width="1"/>
<line x1="81.5" y1="576.3" x2="81.5" y2="878.6" stroke="#000" stroke-width="1.3"/>
<line x1="620.5" y1="576.3" x2="620.5" y2="878.6" stroke="#000" stroke-width="1.3"/>
<line x1="81.3" y1="765.5" x2="620" y2="765.5" stroke="#000" stroke-width="1.3"/>
<rect x="160" y="564.3" width="342.5" height="31.7" fill="#000"/>
<rect x="157" y="561.8" width="343" height="31.2" fill="#ffff99" stroke="#000" stroke-width="1.2"/>
<text x="349.5" y="585.3" font-family="'Liberation Serif','Noto Serif CJK SC','Noto Sans CJK TC',serif" font-size="16.6" fill="#0000ff" textLength="149.4">類股籌碼買賣超走勢</text>
<line x1="105.5" y1="759.737" x2="105.5" y2="765.237" stroke="#000" stroke-width="1.2"/>
<line x1="130.5" y1="759.737" x2="130.5" y2="765.237" stroke="#000" stroke-width="1.2"/>
<line x1="154.5" y1="759.737" x2="154.5" y2="765.237" stroke="#000" stroke-width="1.2"/>
<line x1="179.5" y1="759.737" x2="179.5" y2="765.237" stroke="#000" stroke-width="1.2"/>
<line x1="203.5" y1="759.737" x2="203.5" y2="765.237" stroke="#000" stroke-width="1.2"/>
<line x1="228.5" y1="759.737" x2="228.5" y2="765.237" stroke="#000" stroke-width="1.2"/>
<line x1="252.5" y1="759.737" x2="252.5" y2="765.237" stroke="#000" stroke-width="1.2"/>
<line x1="277.5" y1="759.737" x2="277.5" y2="765.237" stroke="#000" stroke-width="1.2"/>
<line x1="301.5" y1="759.737" x2="301.5" y2="765.237" stroke="#000" stroke-width="1.2"/>
<line x1="326.5" y1="759.737" x2="326.5" y2="765.237" stroke="#000" stroke-width="1.2"/>
<line x1="350.5" y1="759.737" x2="350.5" y2="765.237" stroke="#000" stroke-width="1.2"/>
<line x1="375.5" y1="759.737" x2="375.5" y2="765.237" stroke="#000" stroke-width="1.2"/>
<line x1="399.5" y1="759.737" x2="399.5" y2="765.237" stroke="#000" stroke-width="1.2"/>
<line x1="424.5" y1="759.737" x2="424.5" y2="765.237" stroke="#000" stroke-width="1.2"/>
<line x1="448.5" y1="759.737" x2="448.5" y2="765.237" stroke="#000" stroke-width="1.2"/>
<line x1="473.5" y1="759.737" x2="473.5" y2="765.237" stroke="#000" stroke-width="1.2"/>
<line x1="497.5" y1="759.737" x2="497.5" y2="765.237" stroke="#000" stroke-width="1.2"/>
<line x1="522.5" y1="759.737" x2="522.5" y2="765.237" stroke="#000" stroke-width="1.2"/>
<line x1="546.5" y1="759.737" x2="546.5" y2="765.237" stroke="#000" stroke-width="1.2"/>
<line x1="571.5" y1="759.737" x2="571.5" y2="765.237" stroke="#000" stroke-width="1.2"/>
<line x1="595.5" y1="759.737" x2="595.5" y2="765.237" stroke="#000" stroke-width="1.2"/>
<line x1="81.3" y1="576.5" x2="86.8" y2="576.5" stroke="#000" stroke-width="1.2"/>
<text x="38.6" y="583.9" font-family="Liberation Sans, sans-serif" font-size="17.8" fill="#0000ff" font-weight="bold" textLength="21.3" lengthAdjust="spacingAndGlyphs">81.</text>
<line x1="81.3" y1="619.5" x2="86.8" y2="619.5" stroke="#000" stroke-width="1.2"/>
<text x="38.6" y="627.029" font-family="Liberation Sans, sans-serif" font-size="17.8" fill="#0000ff" font-weight="bold" textLength="21.3" lengthAdjust="spacingAndGlyphs">80.</text>
<line x1="81.3" y1="662.5" x2="86.8" y2="662.5" stroke="#000" stroke-width="1.2"/>
<text x="38.6" y="670.157" font-family="Liberation Sans, sans-serif" font-size="17.8" fill="#0000ff" font-weight="bold" textLength="21.3" lengthAdjust="spacingAndGlyphs">79.</text>
<line x1="81.3" y1="705.5" x2="86.8" y2="705.5" stroke="#000" stroke-width="1.2"/>
<text x="38.6" y="713.286" font-family="Liberation Sans, sans-serif" font-size="17.8" fill="#0000ff" font-weight="bold" textLength="21.3" lengthAdjust="spacingAndGlyphs">78.</text>
<line x1="81.3" y1="748.5" x2="86.8" y2="748.5" stroke="#000" stroke-width="1.2"/>
<text x="38.6" y="756.414" font-family="Liberation Sans, sans-serif" font-size="17.8" fill="#0000ff" font-weight="bold" textLength="21.3" lengthAdjust="spacingAndGlyphs">77.</text>
<line x1="81.3" y1="791.5" x2="86.8" y2="791.5" stroke="#000" stroke-width="1.2"/>
<text x="38.6" y="799.543" font-family="Liberation Sans, sans-serif" font-size="17.8" fill="#0000ff" font-weight="bold" textLength="21.3" lengthAdjust="spacingAndGlyphs">76.</text>
<line x1="81.3" y1="835.5" x2="86.8" y2="835.5" stroke="#000" stroke-width="1.2"/>
<text x="38.6" y="842.671" font-family="Liberation Sans, sans-serif" font-size="17.8" fill="#0000ff" font-weight="bold" textLength="21.3" lengthAdjust="spacingAndGlyphs">75.</text>
<line x1="81.3" y1="878.5" x2="86.8" y2="878.5" stroke="#000" stroke-width="1.2"/>
<text x="38.6" y="885.8" font-family="Liberation Sans, sans-serif" font-size="17.8" fill="#0000ff" font-weight="bold" textLength="21.3" lengthAdjust="spacingAndGlyphs">74.</text>
<line x1="614.5" y1="576.5" x2="620" y2="576.5" stroke="#000" stroke-width="1.2"/>
<text x="632.6" y="583.9" font-family="Liberation Sans, sans-serif" font-size="17.6" fill="#000" textLength="33" lengthAdjust="spacingAndGlyphs">10.00</text>
<line x1="614.5" y1="614.5" x2="620" y2="614.5" stroke="#000" stroke-width="1.2"/>
<text x="632.6" y="621.688" font-family="Liberation Sans, sans-serif" font-size="17.6" fill="#000" textLength="26.6" lengthAdjust="spacingAndGlyphs">8.00</text>
<line x1="614.5" y1="652.5" x2="620" y2="652.5" stroke="#000" stroke-width="1.2"/>
<text x="632.6" y="659.475" font-family="Liberation Sans, sans-serif" font-size="17.6" fill="#000" textLength="26.6" lengthAdjust="spacingAndGlyphs">6.00</text>
<line x1="614.5" y1="689.5" x2="620" y2="689.5" stroke="#000" stroke-width="1.2"/>
<text x="632.6" y="697.263" font-family="Liberation Sans, sans-serif" font-size="17.6" fill="#000" textLength="26.6" lengthAdjust="spacingAndGlyphs">4.00</text>
<line x1="614.5" y1="727.5" x2="620" y2="727.5" stroke="#000" stroke-width="1.2"/>
<text x="632.6" y="735.05" font-family="Liberation Sans, sans-serif" font-size="17.6" fill="#000" textLength="26.6" lengthAdjust="spacingAndGlyphs">2.00</text>
<line x1="614.5" y1="765.5" x2="620" y2="765.5" stroke="#000" stroke-width="1.2"/>
<text x="632.6" y="772.837" font-family="Liberation Sans, sans-serif" font-size="17.6" fill="#000" textLength="26.6" lengthAdjust="spacingAndGlyphs">0.00</text>
<line x1="614.5" y1="803.5" x2="620" y2="803.5" stroke="#000" stroke-width="1.2"/>
<text x="634" y="810.625" font-family="Liberation Sans, sans-serif" font-size="17.6" fill="#000" textLength="30.5" lengthAdjust="spacingAndGlyphs">-2.00</text>
<line x1="614.5" y1="840.5" x2="620" y2="840.5" stroke="#000" stroke-width="1.2"/>
<text x="634" y="848.413" font-family="Liberation Sans, sans-serif" font-size="17.6" fill="#000" textLength="30.5" lengthAdjust="spacingAndGlyphs">-4.00</text>
<line x1="614.5" y1="878.5" x2="620" y2="878.5" stroke="#000" stroke-width="1.2"/>
<text x="634" y="886.2" font-family="Liberation Sans, sans-serif" font-size="17.6" fill="#000" textLength="30.5" lengthAdjust="spacingAndGlyphs">-6.00</text>
<text transform="translate(114.543 784.737) rotate(-46)" font-family="Liberation Serif, serif" font-size="16" fill="#000" text-anchor="end">9<tspan dx="1.8">/</tspan><tspan dx="1.8">29</tspan></text>
<text transform="translate(163.516 784.737) rotate(-46)" font-family="Liberation Serif, serif" font-size="16" fill="#000" text-anchor="end">10<tspan dx="1.8">/</tspan><tspan dx="1.8">5</tspan></text>
<text transform="translate(212.489 784.737) rotate(-46)" font-family="Liberation Serif, serif" font-size="16" fill="#000" text-anchor="end">10<tspan dx="1.8">/</tspan><tspan dx="1.8">7</tspan></text>
<text transform="translate(261.461 784.737) rotate(-46)" font-family="Liberation Serif, serif" font-size="16" fill="#000" text-anchor="end">10<tspan dx="1.8">/</tspan><tspan dx="1.8">12</tspan></text>
<text transform="translate(310.434 784.737) rotate(-46)" font-family="Liberation Serif, serif" font-size="16" fill="#000" text-anchor="end">10<tspan dx="1.8">/</tspan><tspan dx="1.8">14</tspan></text>
<text transform="translate(359.407 784.737) rotate(-46)" font-family="Liberation Serif, serif" font-size="16" fill="#000" text-anchor="end">10<tspan dx="1.8">/</tspan><tspan dx="1.8">16</tspan></text>
<text transform="translate(408.38 784.737) rotate(-46)" font-family="Liberation Serif, serif" font-size="16" fill="#000" text-anchor="end">10<tspan dx="1.8">/</tspan><tspan dx="1.8">20</tspan></text>
<text transform="translate(457.352 784.737) rotate(-46)" font-family="Liberation Serif, serif" font-size="16" fill="#000" text-anchor="end">10<tspan dx="1.8">/</tspan><tspan dx="1.8">22</tspan></text>
<text transform="translate(506.325 784.737) rotate(-46)" font-family="Liberation Serif, serif" font-size="16" fill="#000" text-anchor="end">10<tspan dx="1.8">/</tspan><tspan dx="1.8">26</tspan></text>
<text transform="translate(555.298 784.737) rotate(-46)" font-family="Liberation Serif, serif" font-size="16" fill="#000" text-anchor="end">10<tspan dx="1.8">/</tspan><tspan dx="1.8">28</tspan></text>
<text transform="translate(604.27 784.737) rotate(-46)" font-family="Liberation Serif, serif" font-size="16" fill="#000" text-anchor="end">10<tspan dx="1.8">/</tspan><tspan dx="1.8">30</tspan></text>
<polyline points="94.0432,775.3 118.53,770.3 143.016,747 167.502,735.3 191.989,729.5 216.475,734.5 240.961,719 265.448,698.3 289.934,697.5 314.42,717.5 338.907,725 363.393,708.5 387.88,622 412.366,629 436.852,660 461.339,650 485.825,639 510.311,659.5 534.798,672.5 559.284,727.6 583.77,736.3 608.257,763.3" fill="none" stroke="#000" stroke-width="2.5" stroke-linejoin="round" opacity="0"/>
<polyline points="92.5432,773.3 117.03,768.3 141.516,745 166.002,733.3 190.489,727.5 214.975,732.5 239.461,717 263.948,696.3 288.434,695.5 312.92,715.5 337.407,723 361.893,706.5 386.38,620 410.866,627 435.352,658 459.839,648 484.325,637 508.811,657.5 533.298,670.5 557.784,725.6 582.27,734.3 606.757,761.3" fill="none" stroke="#ffff00" stroke-width="3.4" stroke-linejoin="round"/>
<circle cx="94.1432" cy="775.2" r="5.9" fill="#000"/>
<circle cx="92.5432" cy="773.3" r="5.4" fill="#fff" stroke="#ffc000" stroke-width="1.3"/>
<circle cx="118.63" cy="770.2" r="5.9" fill="#000"/>
<circle cx="117.03" cy="768.3" r="5.4" fill="#fff" stroke="#ffc000" stroke-width="1.3"/>
<circle cx="143.116" cy="746.9" r="5.9" fill="#000"/>
<circle cx="141.516" cy="745" r="5.4" fill="#fff" stroke="#ffc000" stroke-width="1.3"/>
<circle cx="167.602" cy="735.2" r="5.9" fill="#000"/>
<circle cx="166.002" cy="733.3" r="5.4" fill="#fff" stroke="#ffc000" stroke-width="1.3"/>
<circle cx="192.089" cy="729.4" r="5.9" fill="#000"/>
<circle cx="190.489" cy="727.5" r="5.4" fill="#fff" stroke="#ffc000" stroke-width="1.3"/>
<circle cx="216.575" cy="734.4" r="5.9" fill="#000"/>
<circle cx="214.975" cy="732.5" r="5.4" fill="#fff" stroke="#ffc000" stroke-width="1.3"/>
<circle cx="241.061" cy="718.9" r="5.9" fill="#000"/>
<circle cx="239.461" cy="717" r="5.4" fill="#fff" stroke="#ffc000" stroke-width="1.3"/>
<circle cx="265.548" cy="698.2" r="5.9" fill="#000"/>
<circle cx="263.948" cy="696.3" r="5.4" fill="#fff" stroke="#ffc000" stroke-width="1.3"/>
<circle cx="290.034" cy="697.4" r="5.9" fill="#000"/>
<circle cx="288.434" cy="695.5" r="5.4" fill="#fff" stroke="#ffc000" stroke-width="1.3"/>
<circle cx="314.52" cy="717.4" r="5.9" fill="#000"/>
<circle cx="312.92" cy="715.5" r="5.4" fill="#fff" stroke="#ffc000" stroke-width="1.3"/>
<circle cx="339.007" cy="724.9" r="5.9" fill="#000"/>
<circle cx="337.407" cy="723" r="5.4" fill="#fff" stroke="#ffc000" stroke-width="1.3"/>
<circle cx="363.493" cy="708.4" r="5.9" fill="#000"/>
<circle cx="361.893" cy="706.5" r="5.4" fill="#fff" stroke="#ffc000" stroke-width="1.3"/>
<circle cx="387.98" cy="621.9" r="5.9" fill="#000"/>
<circle cx="386.38" cy="620" r="5.4" fill="#fff" stroke="#ffc000" stroke-width="1.3"/>
<circle cx="412.466" cy="628.9" r="5.9" fill="#000"/>
<circle cx="410.866" cy="627" r="5.4" fill="#fff" stroke="#ffc000" stroke-width="1.3"/>
<circle cx="436.952" cy="659.9" r="5.9" fill="#000"/>
<circle cx="435.352" cy="658" r="5.4" fill="#fff" stroke="#ffc000" stroke-width="1.3"/>
<circle cx="461.439" cy="649.9" r="5.9" fill="#000"/>
<circle cx="459.839" cy="648" r="5.4" fill="#fff" stroke="#ffc000" stroke-width="1.3"/>
<circle cx="485.925" cy="638.9" r="5.9" fill="#000"/>
<circle cx="484.325" cy="637" r="5.4" fill="#fff" stroke="#ffc000" stroke-width="1.3"/>
<circle cx="510.411" cy="659.4" r="5.9" fill="#000"/>
<circle cx="508.811" cy="657.5" r="5.4" fill="#fff" stroke="#ffc000" stroke-width="1.3"/>
<circle cx="534.898" cy="672.4" r="5.9" fill="#000"/>
<circle cx="533.298" cy="670.5" r="5.4" fill="#fff" stroke="#ffc000" stroke-width="1.3"/>
<circle cx="559.384" cy="727.5" r="5.9" fill="#000"/>
<circle cx="557.784" cy="725.6" r="5.4" fill="#fff" stroke="#ffc000" stroke-width="1.3"/>
<circle cx="583.87" cy="736.2" r="5.9" fill="#000"/>
<circle cx="582.27" cy="734.3" r="5.4" fill="#fff" stroke="#ffc000" stroke-width="1.3"/>
<circle cx="608.357" cy="763.2" r="5.9" fill="#000"/>
<circle cx="606.757" cy="761.3" r="5.4" fill="#fff" stroke="#ffc000" stroke-width="1.3"/>
<rect x="111.3" y="561.3" width="343.7" height="43.7" fill="#969696" stroke="#000" stroke-width="1.2"/>
<rect x="124" y="578.3" width="31.7" height="11.2" fill="#00ffff" stroke="#000" stroke-width="1"/>
<text x="160" y="591" font-family="'Liberation Serif','Noto Serif CJK SC','Noto Sans CJK TC',serif" font-size="18" fill="#fff" textLength="72">類股籌碼</text>
<line x1="253" y1="583.3" x2="287.5" y2="583.3" stroke="#ffff00" stroke-width="3"/>
<circle cx="270" cy="583.3" r="5.2" fill="#fff" stroke="#ffc000" stroke-width="1.3"/>
<g><text x="291.2" y="591" font-family="'Liberation Serif','Noto Serif CJK SC','Noto Sans CJK TC',serif" font-size="18" fill="#fff" textLength="73.2">電子中游</text><text x="368.65" y="591.00" font-family="Liberation Sans, sans-serif" font-size="18.0" fill="#fff" text-anchor="middle" font-weight="bold">-</text><text x="372.9" y="591" font-family="'Liberation Serif','Noto Serif CJK SC','Noto Sans CJK TC',serif" font-size="18" fill="#fff" textLength="73.2">通訊設備</text></g>
<rect x="680" y="555.3" width="657" height="342.7" fill="#fff"/>
<rect x="721.1" y="634.3" width="570" height="243.9" fill="#c0c0c0"/>
<line x1="752.5" y1="634.3" x2="752.5" y2="878.2" stroke="#99ccff" stroke-width="1" stroke-dasharray="7 4"/>
<line x1="784.5" y1="634.3" x2="784.5" y2="878.2" stroke="#99ccff" stroke-width="1" stroke-dasharray="7 4"/>
<line x1="816.5" y1="634.3" x2="816.5" y2="878.2" stroke="#99ccff" stroke-width="1" stroke-dasharray="7 4"/>
<line x1="847.5" y1="634.3" x2="847.5" y2="878.2" stroke="#99ccff" stroke-width="1" stroke-dasharray="7 4"/>
<line x1="879.5" y1="634.3" x2="879.5" y2="878.2" stroke="#99ccff" stroke-width="1" stroke-dasharray="7 4"/>
<line x1="911.5" y1="634.3" x2="911.5" y2="878.2" stroke="#99ccff" stroke-width="1" stroke-dasharray="7 4"/>
<line x1="942.5" y1="634.3" x2="942.5" y2="878.2" stroke="#99ccff" stroke-width="1" stroke-dasharray="7 4"/>
<line x1="974.5" y1="634.3" x2="974.5" y2="878.2" stroke="#99ccff" stroke-width="1" stroke-dasharray="7 4"/>
<line x1="1006.5" y1="634.3" x2="1006.5" y2="878.2" stroke="#99ccff" stroke-width="1" stroke-dasharray="7 4"/>
<line x1="1037.5" y1="634.3" x2="1037.5" y2="878.2" stroke="#99ccff" stroke-width="1" stroke-dasharray="7 4"/>
<line x1="1069.5" y1="634.3" x2="1069.5" y2="878.2" stroke="#99ccff" stroke-width="1" stroke-dasharray="7 4"/>
<line x1="1101.5" y1="634.3" x2="1101.5" y2="878.2" stroke="#99ccff" stroke-width="1" stroke-dasharray="7 4"/>
<line x1="1132.5" y1="634.3" x2="1132.5" y2="878.2" stroke="#99ccff" stroke-width="1" stroke-dasharray="7 4"/>
<line x1="1164.5" y1="634.3" x2="1164.5" y2="878.2" stroke="#99ccff" stroke-width="1" stroke-dasharray="7 4"/>
<line x1="1196.5" y1="634.3" x2="1196.5" y2="878.2" stroke="#99ccff" stroke-width="1" stroke-dasharray="7 4"/>
<line x1="1227.5" y1="634.3" x2="1227.5" y2="878.2" stroke="#99ccff" stroke-width="1" stroke-dasharray="7 4"/>
<line x1="1259.5" y1="634.3" x2="1259.5" y2="878.2" stroke="#99ccff" stroke-width="1" stroke-dasharray="7 4"/>
<line x1="721.1" y1="669.5" x2="1291.1" y2="669.5" stroke="#000" stroke-width="1.1" stroke-dasharray="8 3.5"/>
<line x1="721.1" y1="704.5" x2="1291.1" y2="704.5" stroke="#000" stroke-width="1.1" stroke-dasharray="8 3.5"/>
<line x1="721.1" y1="739.5" x2="1291.1" y2="739.5" stroke="#000" stroke-width="1.1" stroke-dasharray="8 3.5"/>
<line x1="721.1" y1="774.5" x2="1291.1" y2="774.5" stroke="#000" stroke-width="1.1" stroke-dasharray="8 3.5"/>
<line x1="721.1" y1="809.5" x2="1291.1" y2="809.5" stroke="#000" stroke-width="1.1" stroke-dasharray="8 3.5"/>
<line x1="721.1" y1="844.5" x2="1291.1" y2="844.5" stroke="#000" stroke-width="1.1" stroke-dasharray="8 3.5"/>
<line x1="721.1" y1="634.5" x2="1291.1" y2="634.5" stroke="#000" stroke-width="1.4"/>
<line x1="1291.5" y1="634.3" x2="1291.5" y2="878.2" stroke="#000" stroke-width="1.3"/>
<line x1="721.1" y1="878.5" x2="1291.1" y2="878.5" stroke="#808080" stroke-width="1"/>
<line x1="752.5" y1="634.3" x2="752.5" y2="639.8" stroke="#000" stroke-width="1.2"/>
<line x1="784.5" y1="634.3" x2="784.5" y2="639.8" stroke="#000" stroke-width="1.2"/>
<line x1="816.5" y1="634.3" x2="816.5" y2="639.8" stroke="#000" stroke-width="1.2"/>
<line x1="847.5" y1="634.3" x2="847.5" y2="639.8" stroke="#000" stroke-width="1.2"/>
<line x1="879.5" y1="634.3" x2="879.5" y2="639.8" stroke="#000" stroke-width="1.2"/>
<line x1="911.5" y1="634.3" x2="911.5" y2="639.8" stroke="#000" stroke-width="1.2"/>
<line x1="942.5" y1="634.3" x2="942.5" y2="639.8" stroke="#000" stroke-width="1.2"/>
<line x1="974.5" y1="634.3" x2="974.5" y2="639.8" stroke="#000" stroke-width="1.2"/>
<line x1="1006.5" y1="634.3" x2="1006.5" y2="639.8" stroke="#000" stroke-width="1.2"/>
<line x1="1037.5" y1="634.3" x2="1037.5" y2="639.8" stroke="#000" stroke-width="1.2"/>
<line x1="1069.5" y1="634.3" x2="1069.5" y2="639.8" stroke="#000" stroke-width="1.2"/>
<line x1="1101.5" y1="634.3" x2="1101.5" y2="639.8" stroke="#000" stroke-width="1.2"/>
<line x1="1132.5" y1="634.3" x2="1132.5" y2="639.8" stroke="#000" stroke-width="1.2"/>
<line x1="1164.5" y1="634.3" x2="1164.5" y2="639.8" stroke="#000" stroke-width="1.2"/>
<line x1="1196.5" y1="634.3" x2="1196.5" y2="639.8" stroke="#000" stroke-width="1.2"/>
<line x1="1227.5" y1="634.3" x2="1227.5" y2="639.8" stroke="#000" stroke-width="1.2"/>
<line x1="1259.5" y1="634.3" x2="1259.5" y2="639.8" stroke="#000" stroke-width="1.2"/>
<line x1="1291.5" y1="634.3" x2="1291.5" y2="639.8" stroke="#000" stroke-width="1.2"/>
<line x1="721.5" y1="634.3" x2="721.5" y2="878.2" stroke="#ff9900" stroke-width="1.3"/>
<line x1="721.1" y1="634.5" x2="726.6" y2="634.5" stroke="#ff9900" stroke-width="1.3"/>
<text x="703.4" y="641.6" font-family="Liberation Sans, sans-serif" font-size="17.6" fill="#ff6600" text-anchor="end" font-weight="bold" textLength="14.6" lengthAdjust="spacingAndGlyphs">45</text>
<line x1="721.1" y1="661.5" x2="726.6" y2="661.5" stroke="#ff9900" stroke-width="1.3"/>
<text x="703.4" y="668.7" font-family="Liberation Sans, sans-serif" font-size="17.6" fill="#ff6600" text-anchor="end" font-weight="bold" textLength="14.6" lengthAdjust="spacingAndGlyphs">40</text>
<line x1="721.1" y1="688.5" x2="726.6" y2="688.5" stroke="#ff9900" stroke-width="1.3"/>
<text x="703.4" y="695.8" font-family="Liberation Sans, sans-serif" font-size="17.6" fill="#ff6600" text-anchor="end" font-weight="bold" textLength="14.6" lengthAdjust="spacingAndGlyphs">35</text>
<line x1="721.1" y1="715.5" x2="726.6" y2="715.5" stroke="#ff9900" stroke-width="1.3"/>
<text x="703.4" y="722.9" font-family="Liberation Sans, sans-serif" font-size="17.6" fill="#ff6600" text-anchor="end" font-weight="bold" textLength="14.6" lengthAdjust="spacingAndGlyphs">30</text>
<line x1="721.1" y1="742.5" x2="726.6" y2="742.5" stroke="#ff9900" stroke-width="1.3"/>
<text x="703.4" y="750" font-family="Liberation Sans, sans-serif" font-size="17.6" fill="#ff6600" text-anchor="end" font-weight="bold" textLength="14.6" lengthAdjust="spacingAndGlyphs">25</text>
<line x1="721.1" y1="769.5" x2="726.6" y2="769.5" stroke="#ff9900" stroke-width="1.3"/>
<text x="703.4" y="777.1" font-family="Liberation Sans, sans-serif" font-size="17.6" fill="#ff6600" text-anchor="end" font-weight="bold" textLength="14.6" lengthAdjust="spacingAndGlyphs">20</text>
<line x1="721.1" y1="796.5" x2="726.6" y2="796.5" stroke="#ff9900" stroke-width="1.3"/>
<text x="703.4" y="804.2" font-family="Liberation Sans, sans-serif" font-size="17.6" fill="#ff6600" text-anchor="end" font-weight="bold" textLength="14.6" lengthAdjust="spacingAndGlyphs">15</text>
<line x1="721.1" y1="824.5" x2="726.6" y2="824.5" stroke="#ff9900" stroke-width="1.3"/>
<text x="703.4" y="831.3" font-family="Liberation Sans, sans-serif" font-size="17.6" fill="#ff6600" text-anchor="end" font-weight="bold" textLength="14.6" lengthAdjust="spacingAndGlyphs">10</text>
<line x1="721.1" y1="851.5" x2="726.6" y2="851.5" stroke="#ff9900" stroke-width="1.3"/>
<text x="703.4" y="858.4" font-family="Liberation Sans, sans-serif" font-size="17.6" fill="#ff6600" text-anchor="end" font-weight="bold" textLength="7.6" lengthAdjust="spacingAndGlyphs">5</text>
<line x1="721.1" y1="878.5" x2="726.6" y2="878.5" stroke="#ff9900" stroke-width="1.3"/>
<text x="703.4" y="885.5" font-family="Liberation Sans, sans-serif" font-size="17.6" fill="#ff6600" text-anchor="end" font-weight="bold" textLength="7.6" lengthAdjust="spacingAndGlyphs">0</text>
<line x1="1285.6" y1="634.5" x2="1291.1" y2="634.5" stroke="#000" stroke-width="1.2"/>
<text x="1303.6" y="642.1" font-family="Liberation Sans, sans-serif" font-size="17.8" fill="#0000ff" textLength="18.6" lengthAdjust="spacingAndGlyphs">81.</text>
<line x1="1285.6" y1="669.5" x2="1291.1" y2="669.5" stroke="#000" stroke-width="1.2"/>
<text x="1303.6" y="677.05" font-family="Liberation Sans, sans-serif" font-size="17.8" fill="#0000ff" textLength="18.6" lengthAdjust="spacingAndGlyphs">80.</text>
<line x1="1285.6" y1="704.5" x2="1291.1" y2="704.5" stroke="#000" stroke-width="1.2"/>
<text x="1303.6" y="712" font-family="Liberation Sans, sans-serif" font-size="17.8" fill="#0000ff" textLength="18.6" lengthAdjust="spacingAndGlyphs">79.</text>
<line x1="1285.6" y1="739.5" x2="1291.1" y2="739.5" stroke="#000" stroke-width="1.2"/>
<text x="1303.6" y="746.95" font-family="Liberation Sans, sans-serif" font-size="17.8" fill="#0000ff" textLength="18.6" lengthAdjust="spacingAndGlyphs">78.</text>
<line x1="1285.6" y1="774.5" x2="1291.1" y2="774.5" stroke="#000" stroke-width="1.2"/>
<text x="1303.6" y="781.9" font-family="Liberation Sans, sans-serif" font-size="17.8" fill="#0000ff" textLength="18.6" lengthAdjust="spacingAndGlyphs">77.</text>
<line x1="1285.6" y1="809.5" x2="1291.1" y2="809.5" stroke="#000" stroke-width="1.2"/>
<text x="1303.6" y="816.85" font-family="Liberation Sans, sans-serif" font-size="17.8" fill="#0000ff" textLength="18.6" lengthAdjust="spacingAndGlyphs">76.</text>
<line x1="1285.6" y1="844.5" x2="1291.1" y2="844.5" stroke="#000" stroke-width="1.2"/>
<text x="1303.6" y="851.8" font-family="Liberation Sans, sans-serif" font-size="17.8" fill="#0000ff" textLength="18.6" lengthAdjust="spacingAndGlyphs">75.</text>
<line x1="1285.6" y1="878.5" x2="1291.1" y2="878.5" stroke="#000" stroke-width="1.2"/>
<text x="1303.6" y="886.75" font-family="Liberation Sans, sans-serif" font-size="17.8" fill="#0000ff" textLength="18.6" lengthAdjust="spacingAndGlyphs">74.</text>
<text transform="translate(742.533 628) rotate(-90) scale(1 1.12)" font-family="'Liberation Serif','Noto Serif CJK SC','Noto Sans CJK TC',serif" font-size="15.5" fill="#000" textLength="62">19年05月</text>
<text transform="translate(774.2 628) rotate(-90) scale(1 1.12)" font-family="'Liberation Serif','Noto Serif CJK SC','Noto Sans CJK TC',serif" font-size="15.5" fill="#000" textLength="62">19年06月</text>
<text transform="translate(805.867 628) rotate(-90) scale(1 1.12)" font-family="'Liberation Serif','Noto Serif CJK SC','Noto Sans CJK TC',serif" font-size="15.5" fill="#000" textLength="62">19年07月</text>
<text transform="translate(837.533 628) rotate(-90) scale(1 1.12)" font-family="'Liberation Serif','Noto Serif CJK SC','Noto Sans CJK TC',serif" font-size="15.5" fill="#000" textLength="62">19年08月</text>
<text transform="translate(869.2 628) rotate(-90) scale(1 1.12)" font-family="'Liberation Serif','Noto Serif CJK SC','Noto Sans CJK TC',serif" font-size="15.5" fill="#000" textLength="62">19年09月</text>
<text transform="translate(900.867 628) rotate(-90) scale(1 1.12)" font-family="'Liberation Serif','Noto Serif CJK SC','Noto Sans CJK TC',serif" font-size="15.5" fill="#000" textLength="62">19年10月</text>
<text transform="translate(932.533 628) rotate(-90) scale(1 1.12)" font-family="'Liberation Serif','Noto Serif CJK SC','Noto Sans CJK TC',serif" font-size="15.5" fill="#000" textLength="62">19年11月</text>
<text transform="translate(964.2 628) rotate(-90) scale(1 1.12)" font-family="'Liberation Serif','Noto Serif CJK SC','Noto Sans CJK TC',serif" font-size="15.5" fill="#000" textLength="62">19年12月</text>
<text transform="translate(995.867 628) rotate(-90) scale(1 1.12)" font-family="'Liberation Serif','Noto Serif CJK SC','Noto Sans CJK TC',serif" font-size="15.5" fill="#000" textLength="62">20年01月</text>
<text transform="translate(1027.53 628) rotate(-90) scale(1 1.12)" font-family="'Liberation Serif','Noto Serif CJK SC','Noto Sans CJK TC',serif" font-size="15.5" fill="#000" textLength="62">20年02月</text>
<text transform="translate(1059.2 628) rotate(-90) scale(1 1.12)" font-family="'Liberation Serif','Noto Serif CJK SC','Noto Sans CJK TC',serif" font-size="15.5" fill="#000" textLength="62">20年03月</text>
<text transform="translate(1090.87 628) rotate(-90) scale(1 1.12)" font-family="'Liberation Serif','Noto Serif CJK SC','Noto Sans CJK TC',serif" font-size="15.5" fill="#000" textLength="62">20年04月</text>
<text transform="translate(1122.53 628) rotate(-90) scale(1 1.12)" font-family="'Liberation Serif','Noto Serif CJK SC','Noto Sans CJK TC',serif" font-size="15.5" fill="#000" textLength="62">20年05月</text>
<text transform="translate(1154.2 628) rotate(-90) scale(1 1.12)" font-family="'Liberation Serif','Noto Serif CJK SC','Noto Sans CJK TC',serif" font-size="15.5" fill="#000" textLength="62">20年06月</text>
<text transform="translate(1185.87 628) rotate(-90) scale(1 1.12)" font-family="'Liberation Serif','Noto Serif CJK SC','Noto Sans CJK TC',serif" font-size="15.5" fill="#000" textLength="62">20年07月</text>
<text transform="translate(1217.53 628) rotate(-90) scale(1 1.12)" font-family="'Liberation Serif','Noto Serif CJK SC','Noto Sans CJK TC',serif" font-size="15.5" fill="#000" textLength="62">20年08月</text>
<text transform="translate(1249.2 628) rotate(-90) scale(1 1.12)" font-family="'Liberation Serif','Noto Serif CJK SC','Noto Sans CJK TC',serif" font-size="15.5" fill="#000" textLength="62">20年09月</text>
<text transform="translate(1280.87 628) rotate(-90) scale(1 1.12)" font-family="'Liberation Serif','Noto Serif CJK SC','Noto Sans CJK TC',serif" font-size="15.5" fill="#000" textLength="62">20年10月</text>
<polyline points="736.633,713 768.3,709.5 799.967,697.5 831.633,713 863.3,744.3 894.967,698.8 926.633,670 958.3,672.5 989.967,679.3 1021.63,681.8 1053.3,702.5 1084.97,720.8 1116.63,718 1148.3,715 1179.97,797.5 1211.63,798.8 1243.3,791.3" fill="none" stroke="#000080" stroke-width="2.7" stroke-linejoin="round"/>
<line x1="1243.3" y1="791.3" x2="1274.97" y2="794.3" stroke="#0000ff" stroke-width="3.2"/>
<path d="M736.633 707.4l5.6 5.6-5.6 5.6-5.6-5.6z" fill="#000080"/>
<path d="M768.3 703.9l5.6 5.6-5.6 5.6-5.6-5.6z" fill="#000080"/>
<path d="M799.967 691.9l5.6 5.6-5.6 5.6-5.6-5.6z" fill="#000080"/>
<path d="M831.633 707.4l5.6 5.6-5.6 5.6-5.6-5.6z" fill="#000080"/>
<path d="M863.3 738.7l5.6 5.6-5.6 5.6-5.6-5.6z" fill="#000080"/>
<path d="M894.967 693.2l5.6 5.6-5.6 5.6-5.6-5.6z" fill="#000080"/>
<path d="M926.633 664.4l5.6 5.6-5.6 5.6-5.6-5.6z" fill="#000080"/>
<path d="M958.3 666.9l5.6 5.6-5.6 5.6-5.6-5.6z" fill="#000080"/>
<path d="M989.967 673.7l5.6 5.6-5.6 5.6-5.6-5.6z" fill="#000080"/>
<path d="M1021.63 676.2l5.6 5.6-5.6 5.6-5.6-5.6z" fill="#000080"/>
<path d="M1053.3 696.9l5.6 5.6-5.6 5.6-5.6-5.6z" fill="#000080"/>
<circle cx="1086.57" cy="722.8" r="6" fill="#000"/>
<circle cx="1084.97" cy="720.8" r="5.6" fill="#fff" stroke="#000080" stroke-width="1.2"/>
<path d="M1116.63 712.4l5.6 5.6-5.6 5.6-5.6-5.6z" fill="#000080"/>
<path d="M1148.3 709.4l5.6 5.6-5.6 5.6-5.6-5.6z" fill="#000080"/>
<path d="M1179.97 791.9l5.6 5.6-5.6 5.6-5.6-5.6z" fill="#000080"/>
<circle cx="1213.23" cy="800.8" r="6" fill="#000"/>
<circle cx="1211.63" cy="798.8" r="5.6" fill="#fff" stroke="#000080" stroke-width="1.2"/>
<rect x="1240.1" y="788.3" width="9.5" height="9.5" fill="#000"/>
<rect x="1238.6" y="786.6" width="9.4" height="9.4" fill="#00ffff" stroke="#000080" stroke-width="1"/>
<path d="M1277.17 788.3l8.3 8.3-8.3 8.3-8.3-8.3z" fill="#000"/>
<path d="M1274.97 786l8.3 8.3-8.3 8.3-8.3-8.3z" fill="#ccffff" stroke="#66ccff" stroke-width="1"/>
<polyline points="736.633,664.11 768.3,677.389 799.967,686.603 831.633,718.852 863.3,718.852 894.967,700.424 926.633,696.63 958.3,705.031 989.967,695.004 1021.63,688.5 1053.3,709.638 1084.97,722.646 1116.63,723.188 1148.3,878.2 1179.97,729.15 1211.63,878.2 1243.3,729.15 1274.97,731.318" fill="none" stroke="#ffff00" stroke-width="3.1" stroke-linejoin="round"/>
<circle cx="737.733" cy="665.41" r="4.6" fill="#000"/><circle cx="736.633" cy="664.11" r="4.3" fill="#868686" stroke="#e8e8e8" stroke-width="1"/>
<circle cx="769.4" cy="678.689" r="4.6" fill="#000"/><circle cx="768.3" cy="677.389" r="4.3" fill="#868686" stroke="#e8e8e8" stroke-width="1"/>
<circle cx="801.067" cy="687.903" r="4.6" fill="#000"/><circle cx="799.967" cy="686.603" r="4.3" fill="#868686" stroke="#e8e8e8" stroke-width="1"/>
<circle cx="832.733" cy="720.152" r="4.6" fill="#000"/><circle cx="831.633" cy="718.852" r="4.3" fill="#868686" stroke="#e8e8e8" stroke-width="1"/>
<circle cx="864.4" cy="720.152" r="4.6" fill="#000"/><circle cx="863.3" cy="718.852" r="4.3" fill="#868686" stroke="#e8e8e8" stroke-width="1"/>
<circle cx="896.067" cy="701.724" r="4.6" fill="#000"/><circle cx="894.967" cy="700.424" r="4.3" fill="#868686" stroke="#e8e8e8" stroke-width="1"/>
<circle cx="927.733" cy="697.93" r="4.6" fill="#000"/><circle cx="926.633" cy="696.63" r="4.3" fill="#868686" stroke="#e8e8e8" stroke-width="1"/>
<circle cx="959.4" cy="706.331" r="4.6" fill="#000"/><circle cx="958.3" cy="705.031" r="4.3" fill="#868686" stroke="#e8e8e8" stroke-width="1"/>
<circle cx="991.067" cy="696.304" r="4.6" fill="#000"/><circle cx="989.967" cy="695.004" r="4.3" fill="#868686" stroke="#e8e8e8" stroke-width="1"/>
<circle cx="1022.73" cy="689.8" r="4.6" fill="#000"/><circle cx="1021.63" cy="688.5" r="4.3" fill="#868686" stroke="#e8e8e8" stroke-width="1"/>
<circle cx="1054.4" cy="710.938" r="4.6" fill="#000"/><circle cx="1053.3" cy="709.638" r="4.3" fill="#868686" stroke="#e8e8e8" stroke-width="1"/>
<circle cx="1086.07" cy="723.946" r="4.6" fill="#000"/><circle cx="1084.97" cy="722.646" r="4.3" fill="#868686" stroke="#e8e8e8" stroke-width="1"/>
<circle cx="1117.73" cy="724.488" r="4.6" fill="#000"/><circle cx="1116.63" cy="723.188" r="4.3" fill="#868686" stroke="#e8e8e8" stroke-width="1"/>
<circle cx="1149.4" cy="879.5" r="4.6" fill="#000"/><circle cx="1148.3" cy="878.2" r="4.3" fill="#868686" stroke="#e8e8e8" stroke-width="1"/>
<circle cx="1181.07" cy="730.45" r="4.6" fill="#000"/><circle cx="1179.97" cy="729.15" r="4.3" fill="#868686" stroke="#e8e8e8" stroke-width="1"/>
<circle cx="1212.73" cy="879.5" r="4.6" fill="#000"/><circle cx="1211.63" cy="878.2" r="4.3" fill="#868686" stroke="#e8e8e8" stroke-width="1"/>
<circle cx="1244.4" cy="730.45" r="4.6" fill="#000"/><circle cx="1243.3" cy="729.15" r="4.3" fill="#868686" stroke="#e8e8e8" stroke-width="1"/>
<circle cx="1276.07" cy="732.618" r="4.6" fill="#000"/><circle cx="1274.97" cy="731.318" r="4.3" fill="#868686" stroke="#e8e8e8" stroke-width="1"/>
<rect x="722.4" y="827.5" width="205.9" height="49" fill="#ccccff" stroke="#808080" stroke-width="1.2"/>
<line x1="733.8" y1="841.5" x2="762.6" y2="841.5" stroke="#000080" stroke-width="1.6"/>
<path d="M748.2 836l5.5 5.5-5.5 5.5-5.5-5.5z" fill="#000080"/>
<text x="767.5" y="850" font-family="'Liberation Serif','Noto Serif CJK SC','Noto Sans CJK TC',serif" font-size="16.4" fill="#000" textLength="147.6">大戶(扣除外資法人)</text>
<line x1="733.8" y1="864" x2="762.6" y2="864" stroke="#ffff00" stroke-width="2.4"/>
<circle cx="748.2" cy="864" r="4" fill="#868686" stroke="#eee" stroke-width="1"/>
<text x="767.5" y="872.3" font-family="'Liberation Serif','Noto Serif CJK SC','Noto Sans CJK TC',serif" font-size="16.4" fill="#000" textLength="82">月收盤股價</text>
<defs><linearGradient id="bg1" x1="0" y1="0" x2="0" y2="1"><stop offset="0" stop-color="#00008c"/><stop offset="0.12" stop-color="#1a22d8"/><stop offset="0.45" stop-color="#3450fa"/><stop offset="0.8" stop-color="#1a24d6"/><stop offset="1" stop-color="#0000a0"/></linearGradient><linearGradient id="bg2" x1="0" y1="0" x2="1" y2="0"><stop offset="0" stop-color="#000070" stop-opacity="0.45"/><stop offset="0.25" stop-color="#000070" stop-opacity="0"/><stop offset="0.55" stop-color="#000070" stop-opacity="0"/><stop offset="0.8" stop-color="#000078" stop-opacity="0.8"/><stop offset="1" stop-color="#000078" stop-opacity="0.9"/></linearGradient><clipPath id="ph"><rect x="1065.6" y="22.4" width="63" height="42.8" rx="2.5"/></clipPath></defs>
<rect x="1064" y="19" width="273.5" height="47.3" fill="url(#bg1)"/>
<rect x="1064" y="19" width="273.5" height="47.3" fill="url(#bg2)"/>
<path d="M1128 54.3h6.5l9.5 6.3h114M1313 49.3h18.5l6 5.5" fill="none" stroke="#8fa6ff" stroke-width="1.1" opacity="0.75"/>
<g clip-path="url(#ph)">
<rect x="1065" y="22" width="64" height="44" fill="#352910"/>
<rect x="1065" y="22" width="64" height="5.5" fill="#7a5f22"/>
<rect x="1086" y="27" width="22" height="5" fill="#5c4718"/>
<rect x="1066" y="23" width="6.5" height="7" fill="#22201c"/>
<path d="M1066 34l13-3.5 6 24-15 5z" fill="#c4bca2"/>
<path d="M1067.5 37.5l11-3M1068.3 41l11-3M1069.2 44.5l11-3M1070 48l11-3M1071 51.5l11-3M1072 55l10-3" stroke="#867c60" stroke-width="0.9"/>
<path d="M1081 31.5h19v10h-19z" fill="#0e0e10"/>
<rect x="1082.3" y="32.6" width="16.4" height="7.6" fill="#2ba6d6"/>
<path d="M1082.5 33.5h9v2.5h-9z" fill="#5cc8ea" opacity="0.7"/>
<path d="M1081 41.5h19l1.5 10h-22z" fill="#15110b"/>
<path d="M1085 45l4 6-3 9h-9z" fill="#c4915a"/><path d="M1092 44.5l5 7 5 8-10 1z" fill="#bf8a50"/>
<path d="M1102.5 23.5l23 13.5-2.6 4.6-23-13.5z" fill="#141414"/><path d="M1103.6 25.4l19.5 11.4-1.4 2.6-19.5-11.4z" fill="#35aecd"/>
<path d="M1098.5 48.5l9.7-9 12.4 13.8-9.4 10z" fill="#e6e8dc"/><path d="M1102 49.2l6.2-5.6 8.3 9.2-6.3 6z" fill="#c6d692"/>
<rect x="1117.5" y="57" width="12" height="9" fill="#d4ceb6"/>
<rect x="1113" y="40.5" width="4.5" height="5" fill="#dcae24"/>
<path d="M1065 57l13-4 12 5 4 8h-29z" fill="#4d4030"/><path d="M1092 56l12 2 4 8h-14z" fill="#8a6a26"/>
</g>
<rect x="1065.6" y="22.4" width="63" height="42.8" rx="2.5" fill="none" stroke="#d8d0c0" stroke-width="0.7" opacity="0.6"/>
<g font-family="'Liberation Serif','Noto Serif CJK SC','Noto Sans CJK TC',serif" font-size="27" font-weight="bold"><g transform="translate(1139.7 58.9) skewX(-8) scale(0.9 1)"><text x="0" y="-2.7" fill="#00003c">投</text></g><g transform="translate(1138.2 57.2) skewX(-8) scale(0.9 1)"><text x="0" y="-2.7" fill="#fff">投</text></g><g transform="translate(1171.3 58.9) skewX(-8) scale(0.9 1)"><text x="0" y="-2.7" fill="#00003c">資</text></g><g transform="translate(1169.8 57.2) skewX(-8) scale(0.9 1)"><text x="0" y="-2.7" fill="#fff">資</text></g><g transform="translate(1202.9 58.9) skewX(-8) scale(0.9 1)"><text x="0" y="-2.7" fill="#00003c">教</text></g><g transform="translate(1201.4 57.2) skewX(-8) scale(0.9 1)"><text x="0" y="-2.7" fill="#fff">教</text></g><g transform="translate(1234.5 58.9) skewX(-8) scale(0.9 1)"><text x="0" y="-2.7" fill="#00003c">練</text></g><g transform="translate(1233 57.2) skewX(-8) scale(0.9 1)"><text x="0" y="-2.7" fill="#fff">練</text></g></g>
<path d="M1270.7 22.7L1316.3 42.6L1310.5 65.3L1290 65.3L1258.5 58z" fill="#cdf3ba"/>
<path d="M1267 33l46 19M1264 43l47 18M1261 52l36 13M1281 27l-12 35M1292 32l-11 33M1303 37l-9 28" stroke="#9fc9a4" stroke-width="0.6" fill="none"/>
<path d="M1271 27l3 8 2-4 3 12 3-5 3 9 4-3 5 8 4-2 6 9 5-3" stroke="#8d8d8d" stroke-width="0.7" fill="none"/>
<path d="M1272 34c8 8 20 14 36 20" stroke="#5d7fd0" stroke-width="0.6" fill="none"/>
<path d="M1277 52l3 6 3-4 3 8 4-5 3 7 4-3 4 5 5-4" stroke="#e08040" stroke-width="0.7" fill="none"/>
<path d="M1258.9 60.3L1265 58.5L1271.7 49.8L1276 51.5L1278 50.2L1281 53.2L1292.2 39.4L1297.4 45.9L1302 43L1306.6 41.8L1312.7 34.2L1316 36" stroke="#ff3a0c" stroke-width="2.6" fill="none" stroke-linejoin="miter"/>
<path d="M1311 35.5L1319 33L1320 29.3L1335.8 30.9L1324 43.9L1322.5 39.5L1314.5 42z" fill="#ff5a10"/>
<path d="M1320 29.3L1335.8 30.9L1328 33.5L1318.5 32.5z" fill="#ffae10"/>
<g><text x="385.3" y="67.3" font-family="Liberation Sans, sans-serif" font-weight="bold" font-size="37.7" fill="#0a3a78" opacity="0.35" textLength="88.5" lengthAdjust="spacingAndGlyphs">www.</text><text x="474.6" y="67.3" font-family="Liberation Sans, sans-serif" font-weight="bold" font-size="37.7" fill="#0a3a78" opacity="0.35" textLength="119.5" lengthAdjust="spacingAndGlyphs">icoach5</text><text x="594.3" y="67.3" font-family="Liberation Sans, sans-serif" font-weight="bold" font-size="37.7" fill="#0a3a78" opacity="0.35" textLength="68.2" lengthAdjust="spacingAndGlyphs">.com</text><text x="384.3" y="66.3" font-family="Liberation Sans, sans-serif" font-weight="bold" font-size="37.7" fill="#1b75d0" opacity="1" textLength="88.5" lengthAdjust="spacingAndGlyphs">www.</text><text x="473.6" y="66.3" font-family="Liberation Sans, sans-serif" font-weight="bold" font-size="37.7" fill="#1b75d0" opacity="1" textLength="119.5" lengthAdjust="spacingAndGlyphs">icoach5</text><text x="593.3" y="66.3" font-family="Liberation Sans, sans-serif" font-weight="bold" font-size="37.7" fill="#1b75d0" opacity="1" textLength="68.2" lengthAdjust="spacingAndGlyphs">.com</text></g>
<line x1="30" y1="19.7" x2="1064.5" y2="19.7" stroke="#000" stroke-width="1.6"/>
<line x1="31" y1="45" x2="358" y2="45" stroke="#000" stroke-width="2"/>
<line x1="31" y1="67" x2="358" y2="67" stroke="#000" stroke-width="2"/>
<line x1="31" y1="90" x2="678" y2="90" stroke="#000" stroke-width="2.2"/>
<line x1="31" y1="115.2" x2="1337" y2="115.2" stroke="#000" stroke-width="3"/>
<line x1="31" y1="138.4" x2="1337" y2="138.4" stroke="#000" stroke-width="1.7"/>
<line x1="31" y1="159.5" x2="1337" y2="159.5" stroke="#000" stroke-width="1.7"/>
<line x1="31" y1="181.1" x2="1337" y2="181.1" stroke="#000" stroke-width="1.7"/>
<line x1="30" y1="202.5" x2="1339.2" y2="202.5" stroke="#000" stroke-width="2"/>
<line x1="679" y1="66.5" x2="1064.5" y2="66.5" stroke="#000" stroke-width="1.5"/>
<line x1="679" y1="90" x2="1337" y2="90" stroke="#000" stroke-width="2"/>
<line x1="114" y1="45" x2="114" y2="202.5" stroke="#000" stroke-width="2"/>
<line x1="190" y1="20" x2="190" y2="45" stroke="#000" stroke-width="2"/>
<line x1="190" y1="67" x2="190" y2="202.5" stroke="#000" stroke-width="2"/>
<line x1="274" y1="67" x2="274" y2="202.5" stroke="#000" stroke-width="2"/>
<line x1="358" y1="20" x2="358" y2="202.5" stroke="#000" stroke-width="2"/>
<line x1="445" y1="90" x2="445" y2="202.5" stroke="#000" stroke-width="2"/>
<line x1="521" y1="90" x2="521" y2="202.5" stroke="#000" stroke-width="2"/>
<line x1="596.4" y1="90" x2="596.4" y2="202.5" stroke="#000" stroke-width="1.5"/>
<line x1="678" y1="66" x2="678" y2="202.5" stroke="#000" stroke-width="2"/>
<line x1="777" y1="66" x2="777" y2="202.5" stroke="#000" stroke-width="2.2"/>
<line x1="881.5" y1="20" x2="881.5" y2="66" stroke="#000" stroke-width="2"/>
<line x1="957.2" y1="20" x2="957.2" y2="66" stroke="#000" stroke-width="1.3"/>
<line x1="882" y1="90" x2="882" y2="202.5" stroke="#000" stroke-width="2"/>
<line x1="957" y1="90" x2="957" y2="202.5" stroke="#000" stroke-width="1.6"/>
<line x1="1064.6" y1="90" x2="1064.6" y2="202.5" stroke="#000" stroke-width="2.6"/>
<line x1="1236.6" y1="90" x2="1236.6" y2="202.5" stroke="#000" stroke-width="1.5"/>
<line x1="679.9" y1="202.5" x2="679.9" y2="555.4" stroke="#000" stroke-width="2"/><line x1="678.5" y1="555" x2="678.5" y2="898.8" stroke="#000" stroke-width="1"/><line x1="30" y1="555.5" x2="1338.1" y2="555.5" stroke="#000" stroke-width="1.1"/><line x1="30" y1="898.5" x2="1338.1" y2="898.5" stroke="#000" stroke-width="1"/><line x1="30.95" y1="19" x2="30.95" y2="555" stroke="#000" stroke-width="1.8"/><line x1="30.5" y1="555" x2="30.5" y2="898.8" stroke="#000" stroke-width="1"/><line x1="1338.1" y1="19" x2="1338.1" y2="203.5" stroke="#000" stroke-width="2.1"/><line x1="1339.5" y1="203" x2="1339.5" y2="636" stroke="#000" stroke-width="1"/><line x1="1337.6" y1="635.5" x2="1340.15" y2="635.5" stroke="#000" stroke-width="1"/><line x1="1337.5" y1="555" x2="1337.5" y2="898.8" stroke="#000" stroke-width="1"/>
<g><text x="34" y="921" font-family="Liberation Sans, sans-serif" font-size="10" fill="#000">*</text><text x="40" y="922" font-family="'Liberation Serif','Noto Serif CJK SC','Noto Sans CJK TC',serif" font-size="12" fill="#000" textLength="1172.4">本著作權係屬「投資教練網站」所有，僅供訂戶非商業目的之自用。禁止以紙張或電子媒介、其他任何形式翻印、複製、傳遞、引用部份或全部內容。資料來源或推導之數字雖已經過仔細求證，但不保證毫無錯誤。</text></g>
</svg>
</body></html>
